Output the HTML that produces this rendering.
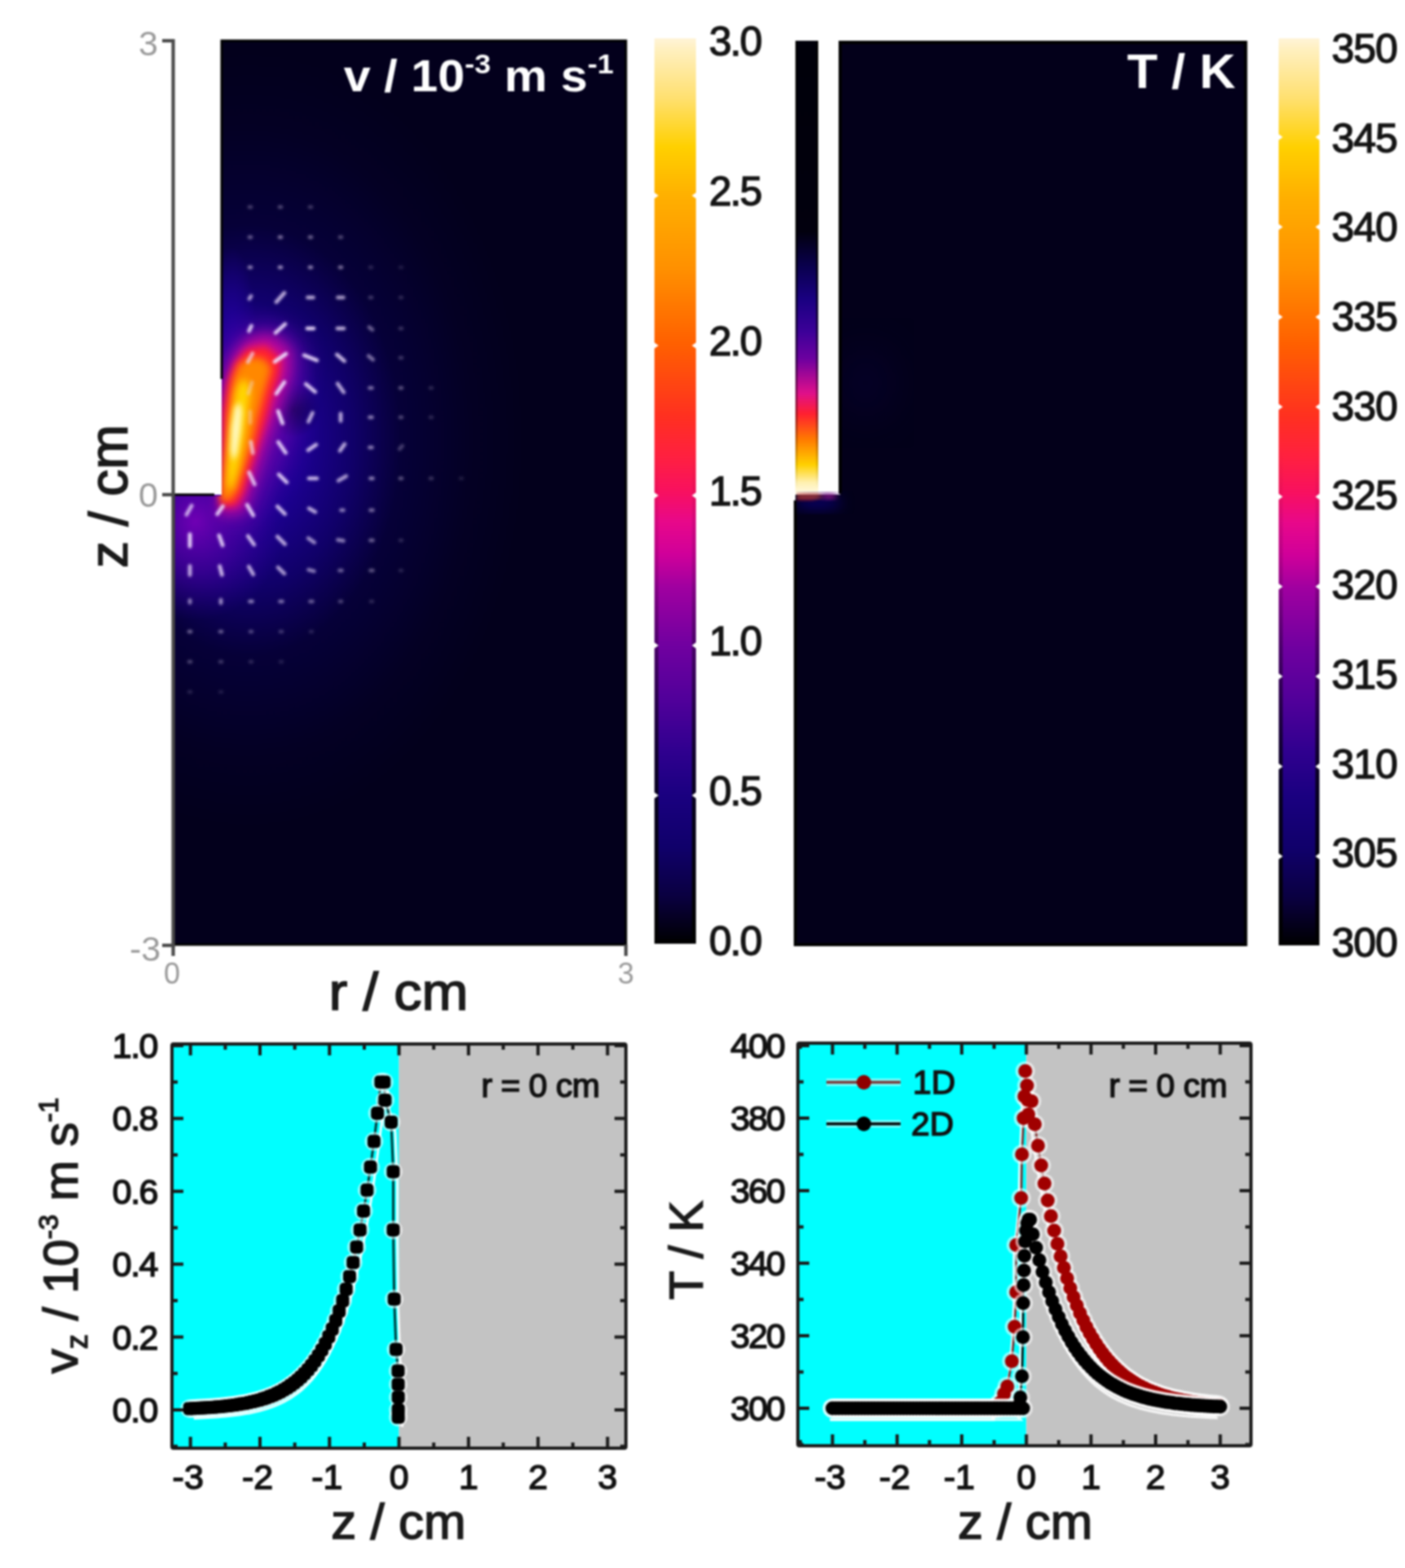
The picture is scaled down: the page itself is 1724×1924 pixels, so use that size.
<!DOCTYPE html><html><head><meta charset="utf-8"><style>html,body{margin:0;padding:0;background:#fff;}body{width:1724px;height:1924px;overflow:hidden}</style></head><body><svg width="1724" height="1924" viewBox="0 0 1724 1924" style="display:block">
<defs>
<linearGradient id="cbar" x1="0" y1="1" x2="0" y2="0"><stop offset="0.000" stop-color="#000000"/><stop offset="0.052" stop-color="#0a0040"/><stop offset="0.106" stop-color="#10006a"/><stop offset="0.164" stop-color="#1a0080"/><stop offset="0.214" stop-color="#30008f"/><stop offset="0.268" stop-color="#50009a"/><stop offset="0.329" stop-color="#7000a0"/><stop offset="0.394" stop-color="#a000a0"/><stop offset="0.430" stop-color="#d0009a"/><stop offset="0.466" stop-color="#e8088a"/><stop offset="0.499" stop-color="#f81060"/><stop offset="0.538" stop-color="#ff2040"/><stop offset="0.583" stop-color="#ff3020"/><stop offset="0.663" stop-color="#ff6000"/><stop offset="0.745" stop-color="#ff9000"/><stop offset="0.826" stop-color="#ffb000"/><stop offset="0.880" stop-color="#ffd000"/><stop offset="0.934" stop-color="#ffe070"/><stop offset="0.988" stop-color="#fff0c0"/><stop offset="1.000" stop-color="#fff4d8"/></linearGradient>
<linearGradient id="strip" x1="0" y1="0" x2="0" y2="1"><stop offset="0.000" stop-color="#00000a"/><stop offset="0.420" stop-color="#02000e"/><stop offset="0.500" stop-color="#0a0050"/><stop offset="0.570" stop-color="#1a0082"/><stop offset="0.640" stop-color="#3c0098"/><stop offset="0.700" stop-color="#6c00a0"/><stop offset="0.777" stop-color="#e0108a"/><stop offset="0.822" stop-color="#ff2030"/><stop offset="0.878" stop-color="#ff7a00"/><stop offset="0.934" stop-color="#ffd000"/><stop offset="0.973" stop-color="#fff0b0"/><stop offset="1.000" stop-color="#fffbe8"/></linearGradient>
<filter id="b0" x="-50%" y="-50%" width="200%" height="200%" color-interpolation-filters="sRGB"><feGaussianBlur stdDeviation="1.4"/></filter>
<filter id="b1" x="-50%" y="-50%" width="200%" height="200%" color-interpolation-filters="sRGB"><feGaussianBlur stdDeviation="3"/></filter>
<filter id="b2" x="-50%" y="-50%" width="200%" height="200%" color-interpolation-filters="sRGB"><feGaussianBlur stdDeviation="5"/></filter>
<filter id="b3" x="-50%" y="-50%" width="200%" height="200%" color-interpolation-filters="sRGB"><feGaussianBlur stdDeviation="8"/></filter>
<filter id="b4" x="-50%" y="-50%" width="200%" height="200%" color-interpolation-filters="sRGB"><feGaussianBlur stdDeviation="14"/></filter>
<filter id="b5" x="-50%" y="-50%" width="200%" height="200%" color-interpolation-filters="sRGB"><feGaussianBlur stdDeviation="25"/></filter>
<filter id="b6" x="-50%" y="-50%" width="200%" height="200%" color-interpolation-filters="sRGB"><feGaussianBlur stdDeviation="45"/></filter>
<filter id="b7" x="-50%" y="-50%" width="200%" height="200%" color-interpolation-filters="sRGB"><feGaussianBlur stdDeviation="70"/></filter>
<clipPath id="clipL"><path d="M272,50 H768 V1159 H213 V607 H272 Z"/></clipPath>
<clipPath id="clipW"><path d="M271,50 H768 V1159 H213 V608.5 H271 Z"/></clipPath>
<clipPath id="clipR"><path d="M1031,52 H1528.5 V1159 H976 V607 H1031 Z"/></clipPath>
<clipPath id="clipR2"><rect x="977" y="560" width="80" height="100"/></clipPath>
<clipPath id="clipP1"><rect x="211" y="1281" width="557" height="495"/></clipPath>
<clipPath id="clipP2"><rect x="979" y="1280" width="556" height="494"/></clipPath>
</defs>
<filter id="gblur" x="0" y="0" width="1" height="1" filterUnits="objectBoundingBox" color-interpolation-filters="sRGB"><feGaussianBlur stdDeviation="0.9"/></filter>
<g filter="url(#gblur)">
<rect width="1724" height="1924" fill="#ffffff"/>
<g clip-path="url(#clipL)">
<rect x="200" y="40" width="580" height="1130" fill="#03001a"/>
<defs><radialGradient id="gA" gradientUnits="userSpaceOnUse" cx="305" cy="540" r="400" gradientTransform="translate(305 540) scale(0.85 1.2) translate(-305 -540)"><stop offset="0" stop-color="#2600a8"/><stop offset="0.2" stop-color="#1c0090"/><stop offset="0.38" stop-color="#100068"/><stop offset="0.55" stop-color="#060038"/><stop offset="0.8" stop-color="#040024"/><stop offset="1" stop-color="#03001c"/></radialGradient><radialGradient id="gB" gradientUnits="userSpaceOnUse" cx="240" cy="640" r="110" gradientTransform="translate(240 640) scale(1 1.1) translate(-240 -640)"><stop offset="0" stop-color="#7000b4" stop-opacity="1"/><stop offset="0.5" stop-color="#5000aa" stop-opacity="0.6"/><stop offset="1" stop-color="#3000a0" stop-opacity="0"/></radialGradient><radialGradient id="gC" gradientUnits="userSpaceOnUse" cx="308" cy="505" r="85" gradientTransform="translate(308 505) scale(1.0 1.6) translate(-308 -505)"><stop offset="0" stop-color="#6a00ac" stop-opacity="1"/><stop offset="0.6" stop-color="#4a00a6" stop-opacity="0.55"/><stop offset="1" stop-color="#2a009c" stop-opacity="0"/></radialGradient><radialGradient id="gD" gradientUnits="userSpaceOnUse" cx="360" cy="503" r="34"><stop offset="0" stop-color="#080048" stop-opacity="0.9"/><stop offset="1" stop-color="#080048" stop-opacity="0"/></radialGradient><radialGradient id="gE" gradientUnits="userSpaceOnUse" cx="284" cy="420" r="45" gradientTransform="translate(284 420) scale(0.7 2.6) translate(-284 -420)"><stop offset="0" stop-color="#2400a2" stop-opacity="0.9"/><stop offset="1" stop-color="#2400a2" stop-opacity="0"/></radialGradient></defs>
<rect x="200" y="40" width="580" height="1130" fill="url(#gA)"/>
<rect x="200" y="40" width="580" height="1130" fill="url(#gE)"/>
<rect x="200" y="40" width="580" height="1130" fill="url(#gC)"/>
<rect x="200" y="40" width="580" height="1130" fill="url(#gB)"/>
<rect x="200" y="40" width="580" height="1130" fill="url(#gD)"/>
<g clip-path="url(#clipW)">
<g filter="url(#b4)"><path d="M272,470 L280,440 L295,415 L320,402 L350,405 L372,430 L368,470 L356,505 L346,540 L334,575 L322,610 L306,640 L270,640 Z" fill="#6a06aa" opacity="0.85"/></g>
<g filter="url(#b3)"><path d="M272,500 L276,465 L286,436 L304,416 L330,410 L356,428 L356,458 L346,488 L337,515 L326,545 L316,576 L307,604 L298,628 L270,632 Z" fill="#c0089a"/></g>
<g filter="url(#b2)"><path d="M273,505 L279,470 L288,446 L303,428 L326,424 L344,440 L343,458 L334,486 L327,513 L317,545 L307,576 L299,604 L290,620 L270,622 Z" fill="#ff2030"/></g>
<g filter="url(#b2)"><path d="M287,462 L294,446 L308,438 L324,440 L333,452 L324,482 L316,513 L309,545 L299,576 L291,602 L282,614 L271,614 L272,602 L275,576 L278,545 L280,513 L283,485 Z" fill="#ff8800"/></g>
<g filter="url(#b2)"><path d="M290,478 L296,466 L304,467 L307,482 L303,513 L298,545 L292,576 L285,598 L279,600 L279,576 L281,545 L284,513 Z" fill="#ffd800"/></g>
<g filter="url(#b1)"><path d="M288,500 L294,493 L297,505 L295,530 L291,556 L286,566 L283,552 L284,525 Z" fill="#fff8c0"/></g>
</g>
<g filter="url(#b0)">
<line x1="306.0" y1="254.0" x2="308.0" y2="254.0" stroke="#f0e0ff" stroke-width="4.6" stroke-linecap="round" opacity="0.29"/>
<line x1="343.0" y1="254.0" x2="345.0" y2="254.0" stroke="#f0e0ff" stroke-width="4.6" stroke-linecap="round" opacity="0.33"/>
<line x1="380.0" y1="254.0" x2="382.0" y2="254.0" stroke="#f0e0ff" stroke-width="4.6" stroke-linecap="round" opacity="0.26"/>
<line x1="306.0" y1="291.0" x2="308.0" y2="291.0" stroke="#f0e0ff" stroke-width="4.6" stroke-linecap="round" opacity="0.42"/>
<line x1="343.0" y1="291.0" x2="345.0" y2="291.0" stroke="#f0e0ff" stroke-width="4.6" stroke-linecap="round" opacity="0.52"/>
<line x1="380.0" y1="291.0" x2="382.0" y2="291.0" stroke="#f0e0ff" stroke-width="4.6" stroke-linecap="round" opacity="0.45"/>
<line x1="417.0" y1="291.0" x2="419.0" y2="291.0" stroke="#f0e0ff" stroke-width="4.6" stroke-linecap="round" opacity="0.33"/>
<line x1="306.0" y1="328.0" x2="308.0" y2="328.0" stroke="#f0e0ff" stroke-width="4.6" stroke-linecap="round" opacity="0.59"/>
<line x1="343.0" y1="328.0" x2="345.0" y2="328.0" stroke="#f0e0ff" stroke-width="4.6" stroke-linecap="round" opacity="0.65"/>
<line x1="380.0" y1="328.0" x2="382.0" y2="328.0" stroke="#f0e0ff" stroke-width="4.6" stroke-linecap="round" opacity="0.59"/>
<line x1="417.0" y1="328.0" x2="419.0" y2="328.0" stroke="#f0e0ff" stroke-width="4.6" stroke-linecap="round" opacity="0.52"/>
<line x1="454.0" y1="328.0" x2="456.0" y2="328.0" stroke="#f0e0ff" stroke-width="4.6" stroke-linecap="round" opacity="0.17"/>
<line x1="491.0" y1="328.0" x2="493.0" y2="328.0" stroke="#f0e0ff" stroke-width="4.6" stroke-linecap="round" opacity="0.13"/>
<line x1="306.0" y1="366.7" x2="308.0" y2="363.3" stroke="#f0e0ff" stroke-width="4.6" stroke-linecap="round" opacity="0.72"/>
<line x1="339.0" y1="370.6" x2="349.0" y2="359.4" stroke="#f0e0ff" stroke-width="4.6" stroke-linecap="round" opacity="0.78"/>
<line x1="377.5" y1="365.0" x2="384.5" y2="365.0" stroke="#f0e0ff" stroke-width="4.6" stroke-linecap="round" opacity="0.78"/>
<line x1="414.5" y1="365.0" x2="421.5" y2="365.0" stroke="#f0e0ff" stroke-width="4.6" stroke-linecap="round" opacity="0.72"/>
<line x1="454.0" y1="365.0" x2="456.0" y2="365.0" stroke="#f0e0ff" stroke-width="4.6" stroke-linecap="round" opacity="0.26"/>
<line x1="491.0" y1="365.0" x2="493.0" y2="365.0" stroke="#f0e0ff" stroke-width="4.6" stroke-linecap="round" opacity="0.18"/>
<line x1="305.5" y1="406.2" x2="308.5" y2="399.8" stroke="#f0e0ff" stroke-width="4.6" stroke-linecap="round" opacity="0.91"/>
<line x1="338.1" y1="408.4" x2="349.9" y2="397.6" stroke="#f0e0ff" stroke-width="4.6" stroke-linecap="round" opacity="0.94"/>
<line x1="377.0" y1="403.0" x2="385.0" y2="403.0" stroke="#f0e0ff" stroke-width="4.6" stroke-linecap="round" opacity="0.98"/>
<line x1="414.0" y1="403.0" x2="422.0" y2="403.0" stroke="#f0e0ff" stroke-width="4.6" stroke-linecap="round" opacity="0.81"/>
<line x1="453.1" y1="401.4" x2="456.9" y2="404.6" stroke="#f0e0ff" stroke-width="4.6" stroke-linecap="round" opacity="0.45"/>
<line x1="491.0" y1="403.0" x2="493.0" y2="403.0" stroke="#f0e0ff" stroke-width="4.6" stroke-linecap="round" opacity="0.23"/>
<line x1="304.2" y1="444.3" x2="309.8" y2="433.7" stroke="#f0e0ff" stroke-width="4.6" stroke-linecap="round" opacity="0.72"/>
<line x1="337.0" y1="443.9" x2="351.0" y2="434.1" stroke="#f0e0ff" stroke-width="4.6" stroke-linecap="round" opacity="1.00"/>
<line x1="373.1" y1="435.8" x2="388.9" y2="442.2" stroke="#f0e0ff" stroke-width="4.6" stroke-linecap="round" opacity="0.94"/>
<line x1="413.4" y1="435.1" x2="422.6" y2="442.9" stroke="#f0e0ff" stroke-width="4.6" stroke-linecap="round" opacity="0.85"/>
<line x1="452.3" y1="436.8" x2="457.7" y2="441.2" stroke="#f0e0ff" stroke-width="4.6" stroke-linecap="round" opacity="0.52"/>
<line x1="491.0" y1="439.0" x2="493.0" y2="439.0" stroke="#f0e0ff" stroke-width="4.6" stroke-linecap="round" opacity="0.26"/>
<line x1="304.8" y1="482.7" x2="309.2" y2="469.3" stroke="#f0e0ff" stroke-width="4.6" stroke-linecap="round" opacity="0.39"/>
<line x1="339.1" y1="483.0" x2="348.9" y2="469.0" stroke="#f0e0ff" stroke-width="4.6" stroke-linecap="round" opacity="0.98"/>
<line x1="375.3" y1="471.2" x2="386.7" y2="480.8" stroke="#f0e0ff" stroke-width="4.6" stroke-linecap="round" opacity="0.91"/>
<line x1="414.3" y1="470.7" x2="421.7" y2="481.3" stroke="#f0e0ff" stroke-width="4.6" stroke-linecap="round" opacity="0.78"/>
<line x1="453.5" y1="476.0" x2="456.5" y2="476.0" stroke="#f0e0ff" stroke-width="4.6" stroke-linecap="round" opacity="0.52"/>
<line x1="491.0" y1="476.0" x2="493.0" y2="476.0" stroke="#f0e0ff" stroke-width="4.6" stroke-linecap="round" opacity="0.39"/>
<line x1="528.0" y1="476.0" x2="530.0" y2="476.0" stroke="#f0e0ff" stroke-width="4.6" stroke-linecap="round" opacity="0.18"/>
<line x1="307.0" y1="505.0" x2="307.0" y2="519.0" stroke="#f0e0ff" stroke-width="4.6" stroke-linecap="round" opacity="0.36"/>
<line x1="341.3" y1="504.5" x2="346.7" y2="519.5" stroke="#f0e0ff" stroke-width="4.6" stroke-linecap="round" opacity="0.98"/>
<line x1="378.5" y1="517.4" x2="383.5" y2="506.6" stroke="#f0e0ff" stroke-width="4.6" stroke-linecap="round" opacity="0.78"/>
<line x1="418.0" y1="507.5" x2="418.0" y2="516.5" stroke="#f0e0ff" stroke-width="4.6" stroke-linecap="round" opacity="0.78"/>
<line x1="453.5" y1="512.0" x2="456.5" y2="512.0" stroke="#f0e0ff" stroke-width="4.6" stroke-linecap="round" opacity="0.59"/>
<line x1="491.0" y1="512.0" x2="493.0" y2="512.0" stroke="#f0e0ff" stroke-width="4.6" stroke-linecap="round" opacity="0.33"/>
<line x1="528.0" y1="512.0" x2="530.0" y2="512.0" stroke="#f0e0ff" stroke-width="4.6" stroke-linecap="round" opacity="0.18"/>
<line x1="307.8" y1="542.1" x2="310.2" y2="555.9" stroke="#f0e0ff" stroke-width="4.6" stroke-linecap="round" opacity="0.72"/>
<line x1="341.4" y1="542.4" x2="350.6" y2="555.6" stroke="#f0e0ff" stroke-width="4.6" stroke-linecap="round" opacity="0.91"/>
<line x1="378.1" y1="552.4" x2="387.9" y2="545.6" stroke="#f0e0ff" stroke-width="4.6" stroke-linecap="round" opacity="0.85"/>
<line x1="417.1" y1="553.1" x2="422.9" y2="544.9" stroke="#f0e0ff" stroke-width="4.6" stroke-linecap="round" opacity="0.78"/>
<line x1="453.5" y1="549.0" x2="456.5" y2="549.0" stroke="#f0e0ff" stroke-width="4.6" stroke-linecap="round" opacity="0.59"/>
<line x1="490.4" y1="550.9" x2="493.6" y2="547.1" stroke="#f0e0ff" stroke-width="4.6" stroke-linecap="round" opacity="0.29"/>
<line x1="305.6" y1="579.7" x2="312.4" y2="594.3" stroke="#f0e0ff" stroke-width="4.6" stroke-linecap="round" opacity="0.85"/>
<line x1="342.1" y1="582.1" x2="351.9" y2="591.9" stroke="#f0e0ff" stroke-width="4.6" stroke-linecap="round" opacity="0.91"/>
<line x1="379.0" y1="587.0" x2="389.0" y2="587.0" stroke="#f0e0ff" stroke-width="4.6" stroke-linecap="round" opacity="0.85"/>
<line x1="415.2" y1="589.8" x2="424.8" y2="584.2" stroke="#f0e0ff" stroke-width="4.6" stroke-linecap="round" opacity="0.72"/>
<line x1="454.5" y1="587.0" x2="457.5" y2="587.0" stroke="#f0e0ff" stroke-width="4.6" stroke-linecap="round" opacity="0.59"/>
<line x1="491.0" y1="587.0" x2="493.0" y2="587.0" stroke="#f0e0ff" stroke-width="4.6" stroke-linecap="round" opacity="0.39"/>
<line x1="528.0" y1="587.0" x2="530.0" y2="587.0" stroke="#f0e0ff" stroke-width="4.6" stroke-linecap="round" opacity="0.23"/>
<line x1="565.0" y1="587.0" x2="567.0" y2="587.0" stroke="#f0e0ff" stroke-width="4.6" stroke-linecap="round" opacity="0.13"/>
<line x1="228.8" y1="631.6" x2="235.2" y2="620.4" stroke="#f0e0ff" stroke-width="4.6" stroke-linecap="round" opacity="0.78"/>
<line x1="266.6" y1="630.9" x2="273.4" y2="621.1" stroke="#f0e0ff" stroke-width="4.6" stroke-linecap="round" opacity="0.91"/>
<line x1="303.2" y1="619.5" x2="310.8" y2="632.5" stroke="#f0e0ff" stroke-width="4.6" stroke-linecap="round" opacity="0.91"/>
<line x1="340.4" y1="621.4" x2="349.6" y2="630.6" stroke="#f0e0ff" stroke-width="4.6" stroke-linecap="round" opacity="0.85"/>
<line x1="379.1" y1="623.8" x2="386.9" y2="628.2" stroke="#f0e0ff" stroke-width="4.6" stroke-linecap="round" opacity="0.78"/>
<line x1="418.5" y1="626.0" x2="421.5" y2="626.0" stroke="#f0e0ff" stroke-width="4.6" stroke-linecap="round" opacity="0.59"/>
<line x1="454.5" y1="626.0" x2="457.5" y2="626.0" stroke="#f0e0ff" stroke-width="4.6" stroke-linecap="round" opacity="0.49"/>
<line x1="233.0" y1="655.5" x2="233.0" y2="670.5" stroke="#f0e0ff" stroke-width="4.6" stroke-linecap="round" opacity="0.98"/>
<line x1="268.8" y1="656.9" x2="273.2" y2="669.1" stroke="#f0e0ff" stroke-width="4.6" stroke-linecap="round" opacity="0.91"/>
<line x1="304.3" y1="657.7" x2="311.7" y2="668.3" stroke="#f0e0ff" stroke-width="4.6" stroke-linecap="round" opacity="0.85"/>
<line x1="340.4" y1="658.4" x2="349.6" y2="667.6" stroke="#f0e0ff" stroke-width="4.6" stroke-linecap="round" opacity="0.78"/>
<line x1="378.3" y1="660.4" x2="385.7" y2="665.6" stroke="#f0e0ff" stroke-width="4.6" stroke-linecap="round" opacity="0.65"/>
<line x1="414.6" y1="662.4" x2="421.4" y2="663.6" stroke="#f0e0ff" stroke-width="4.6" stroke-linecap="round" opacity="0.59"/>
<line x1="454.5" y1="663.0" x2="457.5" y2="663.0" stroke="#f0e0ff" stroke-width="4.6" stroke-linecap="round" opacity="0.45"/>
<line x1="491.0" y1="663.0" x2="493.0" y2="663.0" stroke="#f0e0ff" stroke-width="4.6" stroke-linecap="round" opacity="0.18"/>
<line x1="233.0" y1="694.5" x2="233.0" y2="705.5" stroke="#f0e0ff" stroke-width="4.6" stroke-linecap="round" opacity="0.78"/>
<line x1="269.6" y1="694.7" x2="272.4" y2="705.3" stroke="#f0e0ff" stroke-width="4.6" stroke-linecap="round" opacity="0.85"/>
<line x1="305.2" y1="695.2" x2="310.8" y2="704.8" stroke="#f0e0ff" stroke-width="4.6" stroke-linecap="round" opacity="0.78"/>
<line x1="341.1" y1="696.1" x2="348.9" y2="703.9" stroke="#f0e0ff" stroke-width="4.6" stroke-linecap="round" opacity="0.72"/>
<line x1="378.6" y1="699.1" x2="385.4" y2="700.9" stroke="#f0e0ff" stroke-width="4.6" stroke-linecap="round" opacity="0.59"/>
<line x1="416.5" y1="700.0" x2="419.5" y2="700.0" stroke="#f0e0ff" stroke-width="4.6" stroke-linecap="round" opacity="0.45"/>
<line x1="454.5" y1="700.0" x2="457.5" y2="700.0" stroke="#f0e0ff" stroke-width="4.6" stroke-linecap="round" opacity="0.39"/>
<line x1="491.0" y1="700.0" x2="493.0" y2="700.0" stroke="#f0e0ff" stroke-width="4.6" stroke-linecap="round" opacity="0.16"/>
<line x1="233.0" y1="736.5" x2="233.0" y2="739.5" stroke="#f0e0ff" stroke-width="4.6" stroke-linecap="round" opacity="0.59"/>
<line x1="271.0" y1="736.0" x2="271.0" y2="740.0" stroke="#f0e0ff" stroke-width="4.6" stroke-linecap="round" opacity="0.65"/>
<line x1="306.5" y1="738.0" x2="309.5" y2="738.0" stroke="#f0e0ff" stroke-width="4.6" stroke-linecap="round" opacity="0.59"/>
<line x1="343.5" y1="738.0" x2="346.5" y2="738.0" stroke="#f0e0ff" stroke-width="4.6" stroke-linecap="round" opacity="0.52"/>
<line x1="380.5" y1="738.0" x2="383.5" y2="738.0" stroke="#f0e0ff" stroke-width="4.6" stroke-linecap="round" opacity="0.43"/>
<line x1="417.0" y1="738.0" x2="419.0" y2="738.0" stroke="#f0e0ff" stroke-width="4.6" stroke-linecap="round" opacity="0.31"/>
<line x1="455.0" y1="738.0" x2="457.0" y2="738.0" stroke="#f0e0ff" stroke-width="4.6" stroke-linecap="round" opacity="0.18"/>
<line x1="232.0" y1="775.0" x2="234.0" y2="775.0" stroke="#f0e0ff" stroke-width="4.6" stroke-linecap="round" opacity="0.45"/>
<line x1="270.0" y1="775.0" x2="272.0" y2="775.0" stroke="#f0e0ff" stroke-width="4.6" stroke-linecap="round" opacity="0.43"/>
<line x1="307.0" y1="775.0" x2="309.0" y2="775.0" stroke="#f0e0ff" stroke-width="4.6" stroke-linecap="round" opacity="0.33"/>
<line x1="344.0" y1="775.0" x2="346.0" y2="775.0" stroke="#f0e0ff" stroke-width="4.6" stroke-linecap="round" opacity="0.26"/>
<line x1="381.0" y1="775.0" x2="383.0" y2="775.0" stroke="#f0e0ff" stroke-width="4.6" stroke-linecap="round" opacity="0.16"/>
<line x1="232.0" y1="812.0" x2="234.0" y2="812.0" stroke="#f0e0ff" stroke-width="4.6" stroke-linecap="round" opacity="0.31"/>
<line x1="270.0" y1="812.0" x2="272.0" y2="812.0" stroke="#f0e0ff" stroke-width="4.6" stroke-linecap="round" opacity="0.26"/>
<line x1="307.0" y1="812.0" x2="309.0" y2="812.0" stroke="#f0e0ff" stroke-width="4.6" stroke-linecap="round" opacity="0.18"/>
<line x1="344.0" y1="812.0" x2="346.0" y2="812.0" stroke="#f0e0ff" stroke-width="4.6" stroke-linecap="round" opacity="0.14"/>
<line x1="232.0" y1="849.0" x2="234.0" y2="849.0" stroke="#f0e0ff" stroke-width="4.6" stroke-linecap="round" opacity="0.16"/>
<line x1="270.0" y1="849.0" x2="272.0" y2="849.0" stroke="#f0e0ff" stroke-width="4.6" stroke-linecap="round" opacity="0.13"/>
</g>
</g>
<path d="M272,465 V50 H768 V1159 H213 V607 H263" fill="none" stroke="#000" stroke-width="3" stroke-linejoin="miter"/>
<g stroke="#4a4a4a" stroke-width="4.2" fill="none">
<line x1="212.5" y1="48" x2="212.5" y2="1162"/>
<line x1="199" y1="50" x2="213" y2="50"/>
<line x1="199" y1="607" x2="213" y2="607"/>
<line x1="199" y1="1160" x2="213" y2="1160"/>
<line x1="212.5" y1="1159" x2="212.5" y2="1173"/>
<line x1="768" y1="1159" x2="768" y2="1173"/>
</g>
<g font-family='"Liberation Sans", Arial, sans-serif' font-size="36" fill="#9a9a9a" text-anchor="middle">
<text x="182" y="68" font-size="43">3</text>
<text x="182" y="621.5" font-size="43">0</text>
<text x="178" y="1179" font-size="43">-3</text>
<text x="211" y="1207">0</text>
<text x="768" y="1207">3</text>
</g>
<text transform="translate(489,1239) scale(1.07,1)" font-family='"Liberation Sans", Arial, sans-serif' font-size="64" fill="#1a1a1a" stroke="#1a1a1a" stroke-width="1.6" text-anchor="middle">r / cm</text>
<text transform="translate(156,609) rotate(-90)" font-family='"Liberation Sans", Arial, sans-serif' font-size="66" fill="#1a1a1a" stroke="#1a1a1a" stroke-width="1.6" text-anchor="middle">z / cm</text>
<text transform="translate(753,112) scale(1.06,1)" font-family='"Liberation Sans", Arial, sans-serif' font-size="56" font-weight="bold" fill="#fff" text-anchor="end">v / 10<tspan dy="-22" font-size="34">-3</tspan><tspan dy="22"> m s</tspan><tspan dy="-22" font-size="34">-1</tspan></text>
<g clip-path="url(#clipR)">
<rect x="960" y="40" width="580" height="1130" fill="#03001a"/>
<g filter="url(#b5)"><ellipse cx="1062" cy="470" rx="30" ry="40" fill="#06002e" opacity="0.8"/></g>
</g>
<rect x="976" y="50" width="28" height="557" fill="url(#strip)"/>
<path d="M1031,606 V52 H1528.5 V1159 H976 V614" fill="none" stroke="#000" stroke-width="4"/>
<defs><linearGradient id="sedge" gradientUnits="userSpaceOnUse" x1="0" y1="50" x2="0" y2="600"><stop offset="0" stop-color="#000" stop-opacity="1"/><stop offset="0.45" stop-color="#000" stop-opacity="0.9"/><stop offset="0.85" stop-color="#000" stop-opacity="0.35"/><stop offset="1" stop-color="#000" stop-opacity="0"/></linearGradient></defs>
<rect x="976" y="50" width="2.5" height="555" fill="url(#sedge)"/>
<rect x="1001.5" y="50" width="2.5" height="555" fill="url(#sedge)"/>
<g clip-path="url(#clipR2)">
<g filter="url(#b3)"><ellipse cx="1003" cy="617" rx="30" ry="7" fill="#0a0070"/></g>
<g filter="url(#b1)"><ellipse cx="1017" cy="609" rx="10" ry="3" fill="#a01890"/></g>
<g filter="url(#b1)"><rect x="978" y="611.5" width="22" height="3" fill="#a01020" opacity="0.8"/></g>
<g filter="url(#b1)"><rect x="977" y="606.5" width="30" height="4.5" fill="#ff5a38"/></g>
</g>
<text transform="translate(1516,107.5) scale(1.04,1)" font-family='"Liberation Sans", Arial, sans-serif' font-size="59" font-weight="bold" fill="#fff" text-anchor="end">T / K</text>
<rect x="803" y="47" width="51" height="1111" fill="url(#cbar)"/>
<defs><linearGradient id="cbe803" gradientUnits="userSpaceOnUse" x1="0" y1="1158" x2="0" y2="47"><stop offset="0" stop-color="#000" stop-opacity="0.95"/><stop offset="0.2" stop-color="#000" stop-opacity="0.7"/><stop offset="0.4" stop-color="#000" stop-opacity="0.15"/><stop offset="0.55" stop-color="#000" stop-opacity="0"/></linearGradient></defs>
<rect x="803" y="47" width="5" height="1111" fill="url(#cbe803)"/>
<rect x="849" y="47" width="5" height="1111" fill="url(#cbe803)"/>
<rect x="803" y="1153" width="51" height="5" fill="#000" opacity="0.9"/>
<path d="M802.5,972 L808,976 L802.5,980 Z" fill="#fff"/>
<path d="M854.5,972 L849,976 L854.5,980 Z" fill="#fff"/>
<path d="M802.5,788 L808,792 L802.5,796 Z" fill="#fff"/>
<path d="M854.5,788 L849,792 L854.5,796 Z" fill="#fff"/>
<path d="M802.5,604 L808,608 L802.5,612 Z" fill="#fff"/>
<path d="M854.5,604 L849,608 L854.5,612 Z" fill="#fff"/>
<path d="M802.5,420 L808,424 L802.5,428 Z" fill="#fff"/>
<path d="M854.5,420 L849,424 L854.5,428 Z" fill="#fff"/>
<path d="M802.5,236 L808,240 L802.5,244 Z" fill="#fff"/>
<path d="M854.5,236 L849,240 L854.5,244 Z" fill="#fff"/>
<text x="870" y="1172" font-family='"Liberation Sans", Arial, sans-serif' font-size="50" fill="#141414" stroke="#141414" stroke-width="1.4" style="letter-spacing:-2px">0.0</text>
<text x="870" y="988" font-family='"Liberation Sans", Arial, sans-serif' font-size="50" fill="#141414" stroke="#141414" stroke-width="1.4" style="letter-spacing:-2px">0.5</text>
<text x="870" y="804" font-family='"Liberation Sans", Arial, sans-serif' font-size="50" fill="#141414" stroke="#141414" stroke-width="1.4" style="letter-spacing:-2px">1.0</text>
<text x="870" y="620" font-family='"Liberation Sans", Arial, sans-serif' font-size="50" fill="#141414" stroke="#141414" stroke-width="1.4" style="letter-spacing:-2px">1.5</text>
<text x="870" y="436" font-family='"Liberation Sans", Arial, sans-serif' font-size="50" fill="#141414" stroke="#141414" stroke-width="1.4" style="letter-spacing:-2px">2.0</text>
<text x="870" y="252" font-family='"Liberation Sans", Arial, sans-serif' font-size="50" fill="#141414" stroke="#141414" stroke-width="1.4" style="letter-spacing:-2px">2.5</text>
<text x="870" y="68" font-family='"Liberation Sans", Arial, sans-serif' font-size="50" fill="#141414" stroke="#141414" stroke-width="1.4" style="letter-spacing:-2px">3.0</text>
<rect x="1569" y="47" width="50" height="1113" fill="url(#cbar)"/>
<defs><linearGradient id="cbe1569" gradientUnits="userSpaceOnUse" x1="0" y1="1160" x2="0" y2="47"><stop offset="0" stop-color="#000" stop-opacity="0.95"/><stop offset="0.2" stop-color="#000" stop-opacity="0.7"/><stop offset="0.4" stop-color="#000" stop-opacity="0.15"/><stop offset="0.55" stop-color="#000" stop-opacity="0"/></linearGradient></defs>
<rect x="1569" y="47" width="5" height="1113" fill="url(#cbe1569)"/>
<rect x="1614" y="47" width="5" height="1113" fill="url(#cbe1569)"/>
<rect x="1569" y="1155" width="50" height="5" fill="#000" opacity="0.9"/>
<path d="M1568.5,1046.7 L1574,1050.7 L1568.5,1054.7 Z" fill="#fff"/>
<path d="M1619.5,1046.7 L1614,1050.7 L1619.5,1054.7 Z" fill="#fff"/>
<path d="M1568.5,936.4 L1574,940.4 L1568.5,944.4 Z" fill="#fff"/>
<path d="M1619.5,936.4 L1614,940.4 L1619.5,944.4 Z" fill="#fff"/>
<path d="M1568.5,826.1 L1574,830.1 L1568.5,834.1 Z" fill="#fff"/>
<path d="M1619.5,826.1 L1614,830.1 L1619.5,834.1 Z" fill="#fff"/>
<path d="M1568.5,715.8 L1574,719.8 L1568.5,723.8 Z" fill="#fff"/>
<path d="M1619.5,715.8 L1614,719.8 L1619.5,723.8 Z" fill="#fff"/>
<path d="M1568.5,605.5 L1574,609.5 L1568.5,613.5 Z" fill="#fff"/>
<path d="M1619.5,605.5 L1614,609.5 L1619.5,613.5 Z" fill="#fff"/>
<path d="M1568.5,495.20000000000005 L1574,499.20000000000005 L1568.5,503.20000000000005 Z" fill="#fff"/>
<path d="M1619.5,495.20000000000005 L1614,499.20000000000005 L1619.5,503.20000000000005 Z" fill="#fff"/>
<path d="M1568.5,384.9 L1574,388.9 L1568.5,392.9 Z" fill="#fff"/>
<path d="M1619.5,384.9 L1614,388.9 L1619.5,392.9 Z" fill="#fff"/>
<path d="M1568.5,274.6 L1574,278.6 L1568.5,282.6 Z" fill="#fff"/>
<path d="M1619.5,274.6 L1614,278.6 L1619.5,282.6 Z" fill="#fff"/>
<path d="M1568.5,164.30000000000007 L1574,168.30000000000007 L1568.5,172.30000000000007 Z" fill="#fff"/>
<path d="M1619.5,164.30000000000007 L1614,168.30000000000007 L1619.5,172.30000000000007 Z" fill="#fff"/>
<text x="1634" y="1173.9" font-family='"Liberation Sans", Arial, sans-serif' font-size="50" fill="#141414" stroke="#141414" stroke-width="1.4" style="letter-spacing:-1px">300</text>
<text x="1634" y="1064.2" font-family='"Liberation Sans", Arial, sans-serif' font-size="50" fill="#141414" stroke="#141414" stroke-width="1.4" style="letter-spacing:-1px">305</text>
<text x="1634" y="954.5" font-family='"Liberation Sans", Arial, sans-serif' font-size="50" fill="#141414" stroke="#141414" stroke-width="1.4" style="letter-spacing:-1px">310</text>
<text x="1634" y="844.8" font-family='"Liberation Sans", Arial, sans-serif' font-size="50" fill="#141414" stroke="#141414" stroke-width="1.4" style="letter-spacing:-1px">315</text>
<text x="1634" y="735.1" font-family='"Liberation Sans", Arial, sans-serif' font-size="50" fill="#141414" stroke="#141414" stroke-width="1.4" style="letter-spacing:-1px">320</text>
<text x="1634" y="625.4" font-family='"Liberation Sans", Arial, sans-serif' font-size="50" fill="#141414" stroke="#141414" stroke-width="1.4" style="letter-spacing:-1px">325</text>
<text x="1634" y="515.6999999999999" font-family='"Liberation Sans", Arial, sans-serif' font-size="50" fill="#141414" stroke="#141414" stroke-width="1.4" style="letter-spacing:-1px">330</text>
<text x="1634" y="406.0" font-family='"Liberation Sans", Arial, sans-serif' font-size="50" fill="#141414" stroke="#141414" stroke-width="1.4" style="letter-spacing:-1px">335</text>
<text x="1634" y="296.29999999999995" font-family='"Liberation Sans", Arial, sans-serif' font-size="50" fill="#141414" stroke="#141414" stroke-width="1.4" style="letter-spacing:-1px">340</text>
<text x="1634" y="186.59999999999994" font-family='"Liberation Sans", Arial, sans-serif' font-size="50" fill="#141414" stroke="#141414" stroke-width="1.4" style="letter-spacing:-1px">345</text>
<text x="1634" y="76.9" font-family='"Liberation Sans", Arial, sans-serif' font-size="50" fill="#141414" stroke="#141414" stroke-width="1.4" style="letter-spacing:-1px">350</text>
<rect x="211" y="1281" width="278.6" height="496" fill="#00ffff"/>
<rect x="489.6" y="1281" width="278.4" height="496" fill="#c3c3c3"/>
<g clip-path="url(#clipP1)">
<path d="M232.8,1728.4 L237.1,1728.2 L241.4,1728.0 L245.6,1727.8 L249.9,1727.5 L254.2,1727.3 L258.4,1727.0 L262.7,1726.7 L267.0,1726.3 L271.2,1726.0 L275.5,1725.5 L279.8,1725.1 L284.0,1724.5 L288.3,1724.0 L292.6,1723.3 L296.8,1722.6 L301.1,1721.9 L305.4,1721.0 L309.6,1720.1 L313.9,1719.0 L318.1,1717.9 L322.4,1716.6 L326.7,1715.2 L330.9,1713.6 L335.2,1711.9 L339.5,1710.0 L343.7,1707.9 L348.0,1705.5 L352.3,1703.0 L356.5,1700.1 L360.8,1697.0 L365.1,1693.5 L369.3,1689.7 L373.6,1685.4 L377.9,1680.7 L382.1,1675.6 L386.4,1669.8 L390.7,1663.5 L394.9,1656.5 L399.2,1648.8 L403.4,1640.2 L407.7,1630.8 L412.0,1620.4 L416.2,1608.8 L420.5,1596.1 L424.8,1582.0 L429.0,1566.4 L433.3,1549.2 L437.6,1530.2 L441.8,1509.2 L446.1,1486.0 L450.4,1460.3 L454.6,1432.0 L458.9,1400.6 L463.2,1366.0 L467.4,1327.7 L471.3,1327.7 L472.5,1350.0 L480.0,1376.9 L482.5,1437.7 L482.5,1509.2 L483.7,1594.1 L486.0,1655.8 L488.5,1682.2 L488.6,1698.7 L488.7,1714.4 L488.7,1730.0 L488.7,1738.9" transform="translate(5,12)" fill="none" stroke="#fff" stroke-width="3" opacity="0.9"/>
<path d="M232.8,1728.4 L237.1,1728.2 L241.4,1728.0 L245.6,1727.8 L249.9,1727.5 L254.2,1727.3 L258.4,1727.0 L262.7,1726.7 L267.0,1726.3 L271.2,1726.0 L275.5,1725.5 L279.8,1725.1 L284.0,1724.5 L288.3,1724.0 L292.6,1723.3 L296.8,1722.6 L301.1,1721.9 L305.4,1721.0 L309.6,1720.1 L313.9,1719.0 L318.1,1717.9 L322.4,1716.6 L326.7,1715.2 L330.9,1713.6 L335.2,1711.9 L339.5,1710.0 L343.7,1707.9 L348.0,1705.5 L352.3,1703.0 L356.5,1700.1 L360.8,1697.0 L365.1,1693.5 L369.3,1689.7 L373.6,1685.4 L377.9,1680.7 L382.1,1675.6 L386.4,1669.8 L390.7,1663.5 L394.9,1656.5 L399.2,1648.8 L403.4,1640.2 L407.7,1630.8 L412.0,1620.4 L416.2,1608.8 L420.5,1596.1 L424.8,1582.0 L429.0,1566.4 L433.3,1549.2 L437.6,1530.2 L441.8,1509.2 L446.1,1486.0 L450.4,1460.3 L454.6,1432.0 L458.9,1400.6 L463.2,1366.0 L467.4,1327.7 L471.3,1327.7 L472.5,1350.0 L480.0,1376.9 L482.5,1437.7 L482.5,1509.2 L483.7,1594.1 L486.0,1655.8 L488.5,1682.2 L488.6,1698.7 L488.7,1714.4 L488.7,1730.0 L488.7,1738.9" fill="none" stroke="#003c3c" stroke-width="3"/>
<circle cx="232.8" cy="1728.4" r="11.5" fill="#fff" opacity="0.55"/>
<circle cx="237.1" cy="1728.2" r="11.5" fill="#fff" opacity="0.55"/>
<circle cx="241.4" cy="1728.0" r="11.5" fill="#fff" opacity="0.55"/>
<circle cx="245.6" cy="1727.8" r="11.5" fill="#fff" opacity="0.55"/>
<circle cx="249.9" cy="1727.5" r="11.5" fill="#fff" opacity="0.55"/>
<circle cx="254.2" cy="1727.3" r="11.5" fill="#fff" opacity="0.55"/>
<circle cx="258.4" cy="1727.0" r="11.5" fill="#fff" opacity="0.55"/>
<circle cx="262.7" cy="1726.7" r="11.5" fill="#fff" opacity="0.55"/>
<circle cx="267.0" cy="1726.3" r="11.5" fill="#fff" opacity="0.55"/>
<circle cx="271.2" cy="1726.0" r="11.5" fill="#fff" opacity="0.55"/>
<circle cx="275.5" cy="1725.5" r="11.5" fill="#fff" opacity="0.55"/>
<circle cx="279.8" cy="1725.1" r="11.5" fill="#fff" opacity="0.55"/>
<circle cx="284.0" cy="1724.5" r="11.5" fill="#fff" opacity="0.55"/>
<circle cx="288.3" cy="1724.0" r="11.5" fill="#fff" opacity="0.55"/>
<circle cx="292.6" cy="1723.3" r="11.5" fill="#fff" opacity="0.55"/>
<circle cx="296.8" cy="1722.6" r="11.5" fill="#fff" opacity="0.55"/>
<circle cx="301.1" cy="1721.9" r="11.5" fill="#fff" opacity="0.55"/>
<circle cx="305.4" cy="1721.0" r="11.5" fill="#fff" opacity="0.55"/>
<circle cx="309.6" cy="1720.1" r="11.5" fill="#fff" opacity="0.55"/>
<circle cx="313.9" cy="1719.0" r="11.5" fill="#fff" opacity="0.55"/>
<circle cx="318.1" cy="1717.9" r="11.5" fill="#fff" opacity="0.55"/>
<circle cx="322.4" cy="1716.6" r="11.5" fill="#fff" opacity="0.55"/>
<circle cx="326.7" cy="1715.2" r="11.5" fill="#fff" opacity="0.55"/>
<circle cx="330.9" cy="1713.6" r="11.5" fill="#fff" opacity="0.55"/>
<circle cx="335.2" cy="1711.9" r="11.5" fill="#fff" opacity="0.55"/>
<circle cx="339.5" cy="1710.0" r="11.5" fill="#fff" opacity="0.55"/>
<circle cx="343.7" cy="1707.9" r="11.5" fill="#fff" opacity="0.55"/>
<circle cx="348.0" cy="1705.5" r="11.5" fill="#fff" opacity="0.55"/>
<circle cx="352.3" cy="1703.0" r="11.5" fill="#fff" opacity="0.55"/>
<circle cx="356.5" cy="1700.1" r="11.5" fill="#fff" opacity="0.55"/>
<circle cx="360.8" cy="1697.0" r="11.5" fill="#fff" opacity="0.55"/>
<circle cx="365.1" cy="1693.5" r="11.5" fill="#fff" opacity="0.55"/>
<circle cx="369.3" cy="1689.7" r="11.5" fill="#fff" opacity="0.55"/>
<circle cx="373.6" cy="1685.4" r="11.5" fill="#fff" opacity="0.55"/>
<circle cx="377.9" cy="1680.7" r="11.5" fill="#fff" opacity="0.55"/>
<circle cx="382.1" cy="1675.6" r="11.5" fill="#fff" opacity="0.55"/>
<circle cx="386.4" cy="1669.8" r="11.5" fill="#fff" opacity="0.55"/>
<circle cx="390.7" cy="1663.5" r="11.5" fill="#fff" opacity="0.55"/>
<circle cx="394.9" cy="1656.5" r="11.5" fill="#fff" opacity="0.55"/>
<circle cx="399.2" cy="1648.8" r="11.5" fill="#fff" opacity="0.55"/>
<circle cx="403.4" cy="1640.2" r="11.5" fill="#fff" opacity="0.55"/>
<circle cx="407.7" cy="1630.8" r="11.5" fill="#fff" opacity="0.55"/>
<circle cx="412.0" cy="1620.4" r="11.5" fill="#fff" opacity="0.55"/>
<circle cx="416.2" cy="1608.8" r="11.5" fill="#fff" opacity="0.55"/>
<circle cx="420.5" cy="1596.1" r="11.5" fill="#fff" opacity="0.55"/>
<circle cx="424.8" cy="1582.0" r="11.5" fill="#fff" opacity="0.55"/>
<circle cx="429.0" cy="1566.4" r="11.5" fill="#fff" opacity="0.55"/>
<circle cx="433.3" cy="1549.2" r="11.5" fill="#fff" opacity="0.55"/>
<circle cx="437.6" cy="1530.2" r="11.5" fill="#fff" opacity="0.55"/>
<circle cx="441.8" cy="1509.2" r="11.5" fill="#fff" opacity="0.55"/>
<circle cx="446.1" cy="1486.0" r="11.5" fill="#fff" opacity="0.55"/>
<circle cx="450.4" cy="1460.3" r="11.5" fill="#fff" opacity="0.55"/>
<circle cx="454.6" cy="1432.0" r="11.5" fill="#fff" opacity="0.55"/>
<circle cx="458.9" cy="1400.6" r="11.5" fill="#fff" opacity="0.55"/>
<circle cx="463.2" cy="1366.0" r="11.5" fill="#fff" opacity="0.55"/>
<circle cx="467.4" cy="1327.7" r="11.5" fill="#fff" opacity="0.55"/>
<circle cx="471.3" cy="1327.7" r="11.5" fill="#fff" opacity="0.55"/>
<circle cx="472.5" cy="1350.0" r="11.5" fill="#fff" opacity="0.55"/>
<circle cx="480.0" cy="1376.9" r="11.5" fill="#fff" opacity="0.55"/>
<circle cx="482.5" cy="1437.7" r="11.5" fill="#fff" opacity="0.55"/>
<circle cx="482.5" cy="1509.2" r="11.5" fill="#fff" opacity="0.55"/>
<circle cx="483.7" cy="1594.1" r="11.5" fill="#fff" opacity="0.55"/>
<circle cx="486.0" cy="1655.8" r="11.5" fill="#fff" opacity="0.55"/>
<circle cx="488.5" cy="1682.2" r="11.5" fill="#fff" opacity="0.55"/>
<circle cx="488.6" cy="1698.7" r="11.5" fill="#fff" opacity="0.55"/>
<circle cx="488.7" cy="1714.4" r="11.5" fill="#fff" opacity="0.55"/>
<circle cx="488.7" cy="1730.0" r="11.5" fill="#fff" opacity="0.55"/>
<circle cx="488.7" cy="1738.9" r="11.5" fill="#fff" opacity="0.55"/>
<rect x="224.8" y="1720.4" width="16" height="16" rx="4.8" fill="#000"/>
<rect x="229.1" y="1720.2" width="16" height="16" rx="4.8" fill="#000"/>
<rect x="233.4" y="1720.0" width="16" height="16" rx="4.8" fill="#000"/>
<rect x="237.6" y="1719.8" width="16" height="16" rx="4.8" fill="#000"/>
<rect x="241.9" y="1719.5" width="16" height="16" rx="4.8" fill="#000"/>
<rect x="246.2" y="1719.3" width="16" height="16" rx="4.8" fill="#000"/>
<rect x="250.4" y="1719.0" width="16" height="16" rx="4.8" fill="#000"/>
<rect x="254.7" y="1718.7" width="16" height="16" rx="4.8" fill="#000"/>
<rect x="259.0" y="1718.3" width="16" height="16" rx="4.8" fill="#000"/>
<rect x="263.2" y="1718.0" width="16" height="16" rx="4.8" fill="#000"/>
<rect x="267.5" y="1717.5" width="16" height="16" rx="4.8" fill="#000"/>
<rect x="271.8" y="1717.1" width="16" height="16" rx="4.8" fill="#000"/>
<rect x="276.0" y="1716.5" width="16" height="16" rx="4.8" fill="#000"/>
<rect x="280.3" y="1716.0" width="16" height="16" rx="4.8" fill="#000"/>
<rect x="284.6" y="1715.3" width="16" height="16" rx="4.8" fill="#000"/>
<rect x="288.8" y="1714.6" width="16" height="16" rx="4.8" fill="#000"/>
<rect x="293.1" y="1713.9" width="16" height="16" rx="4.8" fill="#000"/>
<rect x="297.4" y="1713.0" width="16" height="16" rx="4.8" fill="#000"/>
<rect x="301.6" y="1712.1" width="16" height="16" rx="4.8" fill="#000"/>
<rect x="305.9" y="1711.0" width="16" height="16" rx="4.8" fill="#000"/>
<rect x="310.1" y="1709.9" width="16" height="16" rx="4.8" fill="#000"/>
<rect x="314.4" y="1708.6" width="16" height="16" rx="4.8" fill="#000"/>
<rect x="318.7" y="1707.2" width="16" height="16" rx="4.8" fill="#000"/>
<rect x="322.9" y="1705.6" width="16" height="16" rx="4.8" fill="#000"/>
<rect x="327.2" y="1703.9" width="16" height="16" rx="4.8" fill="#000"/>
<rect x="331.5" y="1702.0" width="16" height="16" rx="4.8" fill="#000"/>
<rect x="335.7" y="1699.9" width="16" height="16" rx="4.8" fill="#000"/>
<rect x="340.0" y="1697.5" width="16" height="16" rx="4.8" fill="#000"/>
<rect x="344.3" y="1695.0" width="16" height="16" rx="4.8" fill="#000"/>
<rect x="348.5" y="1692.1" width="16" height="16" rx="4.8" fill="#000"/>
<rect x="352.8" y="1689.0" width="16" height="16" rx="4.8" fill="#000"/>
<rect x="357.1" y="1685.5" width="16" height="16" rx="4.8" fill="#000"/>
<rect x="361.3" y="1681.7" width="16" height="16" rx="4.8" fill="#000"/>
<rect x="365.6" y="1677.4" width="16" height="16" rx="4.8" fill="#000"/>
<rect x="369.9" y="1672.7" width="16" height="16" rx="4.8" fill="#000"/>
<rect x="374.1" y="1667.6" width="16" height="16" rx="4.8" fill="#000"/>
<rect x="378.4" y="1661.8" width="16" height="16" rx="4.8" fill="#000"/>
<rect x="382.7" y="1655.5" width="16" height="16" rx="4.8" fill="#000"/>
<rect x="386.9" y="1648.5" width="16" height="16" rx="4.8" fill="#000"/>
<rect x="391.2" y="1640.8" width="16" height="16" rx="4.8" fill="#000"/>
<rect x="395.4" y="1632.2" width="16" height="16" rx="4.8" fill="#000"/>
<rect x="399.7" y="1622.8" width="16" height="16" rx="4.8" fill="#000"/>
<rect x="404.0" y="1612.4" width="16" height="16" rx="4.8" fill="#000"/>
<rect x="408.2" y="1600.8" width="16" height="16" rx="4.8" fill="#000"/>
<rect x="412.5" y="1588.1" width="16" height="16" rx="4.8" fill="#000"/>
<rect x="416.8" y="1574.0" width="16" height="16" rx="4.8" fill="#000"/>
<rect x="421.0" y="1558.4" width="16" height="16" rx="4.8" fill="#000"/>
<rect x="425.3" y="1541.2" width="16" height="16" rx="4.8" fill="#000"/>
<rect x="429.6" y="1522.2" width="16" height="16" rx="4.8" fill="#000"/>
<rect x="433.8" y="1501.2" width="16" height="16" rx="4.8" fill="#000"/>
<rect x="438.1" y="1478.0" width="16" height="16" rx="4.8" fill="#000"/>
<rect x="442.4" y="1452.3" width="16" height="16" rx="4.8" fill="#000"/>
<rect x="446.6" y="1424.0" width="16" height="16" rx="4.8" fill="#000"/>
<rect x="450.9" y="1392.6" width="16" height="16" rx="4.8" fill="#000"/>
<rect x="455.2" y="1358.0" width="16" height="16" rx="4.8" fill="#000"/>
<rect x="459.4" y="1319.7" width="16" height="16" rx="4.8" fill="#000"/>
<rect x="463.3" y="1319.7" width="16" height="16" rx="4.8" fill="#000"/>
<rect x="464.5" y="1342.0" width="16" height="16" rx="4.8" fill="#000"/>
<rect x="472.0" y="1368.9" width="16" height="16" rx="4.8" fill="#000"/>
<rect x="474.5" y="1429.7" width="16" height="16" rx="4.8" fill="#000"/>
<rect x="474.5" y="1501.2" width="16" height="16" rx="4.8" fill="#000"/>
<rect x="475.7" y="1586.1" width="16" height="16" rx="4.8" fill="#000"/>
<rect x="478.0" y="1647.8" width="16" height="16" rx="4.8" fill="#000"/>
<rect x="480.5" y="1674.2" width="16" height="16" rx="4.8" fill="#000"/>
<rect x="480.6" y="1690.7" width="16" height="16" rx="4.8" fill="#000"/>
<rect x="480.7" y="1706.4" width="16" height="16" rx="4.8" fill="#000"/>
<rect x="480.7" y="1722.0" width="16" height="16" rx="4.8" fill="#000"/>
<rect x="480.7" y="1730.9" width="16" height="16" rx="4.8" fill="#000"/>
</g>
<g stroke="#1a1a1a" stroke-width="4"><line x1="233.7" y1="1777" x2="233.7" y2="1763"/><line x1="233.7" y1="1281" x2="233.7" y2="1295"/><line x1="319.0" y1="1777" x2="319.0" y2="1763"/><line x1="319.0" y1="1281" x2="319.0" y2="1295"/><line x1="404.3" y1="1777" x2="404.3" y2="1763"/><line x1="404.3" y1="1281" x2="404.3" y2="1295"/><line x1="489.6" y1="1777" x2="489.6" y2="1763"/><line x1="489.6" y1="1281" x2="489.6" y2="1295"/><line x1="574.9" y1="1777" x2="574.9" y2="1763"/><line x1="574.9" y1="1281" x2="574.9" y2="1295"/><line x1="660.2" y1="1777" x2="660.2" y2="1763"/><line x1="660.2" y1="1281" x2="660.2" y2="1295"/><line x1="745.5" y1="1777" x2="745.5" y2="1763"/><line x1="745.5" y1="1281" x2="745.5" y2="1295"/><line x1="276.4" y1="1777" x2="276.4" y2="1770"/><line x1="276.4" y1="1281" x2="276.4" y2="1288"/><line x1="361.7" y1="1777" x2="361.7" y2="1770"/><line x1="361.7" y1="1281" x2="361.7" y2="1288"/><line x1="447.0" y1="1777" x2="447.0" y2="1770"/><line x1="447.0" y1="1281" x2="447.0" y2="1288"/><line x1="532.2" y1="1777" x2="532.2" y2="1770"/><line x1="532.2" y1="1281" x2="532.2" y2="1288"/><line x1="617.5" y1="1777" x2="617.5" y2="1770"/><line x1="617.5" y1="1281" x2="617.5" y2="1288"/><line x1="702.9" y1="1777" x2="702.9" y2="1770"/><line x1="702.9" y1="1281" x2="702.9" y2="1288"/><line x1="211" y1="1730.0" x2="225" y2="1730.0"/><line x1="768" y1="1730.0" x2="754" y2="1730.0"/><line x1="211" y1="1640.6" x2="225" y2="1640.6"/><line x1="768" y1="1640.6" x2="754" y2="1640.6"/><line x1="211" y1="1551.2" x2="225" y2="1551.2"/><line x1="768" y1="1551.2" x2="754" y2="1551.2"/><line x1="211" y1="1461.8" x2="225" y2="1461.8"/><line x1="768" y1="1461.8" x2="754" y2="1461.8"/><line x1="211" y1="1372.4" x2="225" y2="1372.4"/><line x1="768" y1="1372.4" x2="754" y2="1372.4"/><line x1="211" y1="1283.0" x2="225" y2="1283.0"/><line x1="768" y1="1283.0" x2="754" y2="1283.0"/><line x1="211" y1="1774.7" x2="218" y2="1774.7"/><line x1="768" y1="1774.7" x2="761" y2="1774.7"/><line x1="211" y1="1685.3" x2="218" y2="1685.3"/><line x1="768" y1="1685.3" x2="761" y2="1685.3"/><line x1="211" y1="1595.9" x2="218" y2="1595.9"/><line x1="768" y1="1595.9" x2="761" y2="1595.9"/><line x1="211" y1="1506.5" x2="218" y2="1506.5"/><line x1="768" y1="1506.5" x2="761" y2="1506.5"/><line x1="211" y1="1417.1" x2="218" y2="1417.1"/><line x1="768" y1="1417.1" x2="761" y2="1417.1"/><line x1="211" y1="1327.7" x2="218" y2="1327.7"/><line x1="768" y1="1327.7" x2="761" y2="1327.7"/></g>
<rect x="211" y="1281" width="557" height="496" fill="none" stroke="#1a1a1a" stroke-width="4" rx="2"/>
<g font-family='"Liberation Sans", Arial, sans-serif' font-size="43" fill="#111" stroke="#111" stroke-width="1.5" text-anchor="end" style="letter-spacing:-1.5px">
<text x="193" y="1745.0">0.0</text>
<text x="193" y="1655.6">0.2</text>
<text x="193" y="1566.2">0.4</text>
<text x="193" y="1476.8">0.6</text>
<text x="193" y="1387.4">0.8</text>
<text x="193" y="1298.0">1.0</text>
</g>
<g font-family='"Liberation Sans", Arial, sans-serif' font-size="43" fill="#111" stroke="#111" stroke-width="1.5" text-anchor="middle">
<text x="230.7" y="1827">-3</text>
<text x="316.0" y="1827">-2</text>
<text x="401.3" y="1827">-1</text>
<text x="489.6" y="1827">0</text>
<text x="574.9" y="1827">1</text>
<text x="660.2" y="1827">2</text>
<text x="745.5" y="1827">3</text>
</g>
<text x="489" y="1888" font-family='"Liberation Sans", Arial, sans-serif' font-size="62" fill="#1a1a1a" stroke="#1a1a1a" stroke-width="1.6" text-anchor="middle">z / cm</text>
<text x="663" y="1346" font-family='"Liberation Sans", Arial, sans-serif' font-size="41" fill="#111" stroke="#111" stroke-width="1.5" text-anchor="middle" style="letter-spacing:-0.5px">r = 0 cm</text>
<text transform="translate(95,1516) rotate(-90)" font-family='"Liberation Sans", Arial, sans-serif' font-size="60" fill="#1a1a1a" stroke="#1a1a1a" stroke-width="1.5" text-anchor="middle">v<tspan dy="12" font-size="36">z</tspan><tspan dy="-12"> / 10</tspan><tspan dy="-24" font-size="34">-3</tspan><tspan dy="24"> m s</tspan><tspan dy="-24" font-size="34">-1</tspan></text>
<rect x="979" y="1280" width="280.4" height="494" fill="#00ffff"/>
<rect x="1259.4" y="1280" width="275.6" height="494" fill="#c3c3c3"/>
<g clip-path="url(#clipP2)">
<path d="M1021.5,1728.0 L1025.5,1728.0 L1029.4,1728.0 L1033.4,1728.0 L1037.4,1728.0 L1041.3,1728.0 L1045.3,1728.0 L1049.3,1728.0 L1053.2,1728.0 L1057.2,1728.0 L1061.1,1728.0 L1065.1,1728.0 L1069.1,1728.0 L1073.0,1728.0 L1077.0,1728.0 L1081.0,1728.0 L1084.9,1728.0 L1088.9,1728.0 L1092.9,1728.0 L1096.8,1728.0 L1100.8,1728.0 L1104.8,1728.0 L1108.7,1728.0 L1112.7,1728.0 L1116.7,1728.0 L1120.6,1728.0 L1124.6,1728.0 L1128.6,1728.0 L1132.5,1728.0 L1136.5,1728.0 L1140.4,1728.0 L1144.4,1728.0 L1148.4,1728.0 L1152.3,1728.0 L1156.3,1728.0 L1160.3,1728.0 L1164.2,1728.0 L1168.2,1728.0 L1172.2,1728.0 L1176.1,1728.0 L1180.1,1728.0 L1184.1,1728.0 L1188.0,1728.0 L1192.0,1728.0 L1196.0,1728.0 L1199.9,1728.0 L1203.9,1728.0 L1207.9,1728.0 L1211.8,1728.0 L1215.8,1728.0 L1219.8,1728.0 L1223.7,1728.0 L1221.0,1726.7 L1227.0,1721.3 L1232.0,1710.2 L1236.0,1701.3 L1241.6,1670.2 L1245.0,1627.9 L1247.0,1585.6 L1247.0,1527.8 L1253.0,1469.9 L1254.0,1416.5 L1256.0,1372.0 L1257.0,1345.3 L1258.0,1314.2 L1260.2,1332.0 L1261.0,1349.8 L1261.8,1367.5 L1265.7,1351.2 L1269.7,1379.5 L1273.7,1405.7 L1277.6,1429.9 L1281.6,1452.3 L1285.6,1473.0 L1289.5,1492.2 L1293.5,1509.9 L1297.5,1526.3 L1301.4,1541.5 L1305.4,1555.5 L1309.4,1568.4 L1313.3,1580.4 L1317.3,1591.5 L1321.3,1601.8 L1325.2,1611.3 L1329.2,1620.0 L1333.1,1628.2 L1337.1,1635.7 L1341.1,1642.6 L1345.0,1649.0 L1349.0,1655.0 L1353.0,1660.4 L1356.9,1665.5 L1360.9,1670.2 L1364.9,1674.6 L1368.8,1678.6 L1372.8,1682.3 L1376.8,1685.7 L1380.7,1688.9 L1384.7,1691.8 L1388.7,1694.6 L1392.6,1697.1 L1396.6,1699.4 L1400.6,1701.5 L1404.5,1703.5 L1408.5,1705.4 L1412.4,1707.1 L1416.4,1708.6 L1420.4,1710.1 L1424.3,1711.4 L1428.3,1712.7 L1432.3,1713.8 L1436.2,1714.9 L1440.2,1715.9 L1444.2,1716.8 L1448.1,1717.6 L1452.1,1718.4 L1456.1,1719.1 L1460.0,1719.8 L1464.0,1720.4 L1468.0,1721.0 L1471.9,1721.5 L1475.9,1722.0 L1479.9,1722.5 L1483.8,1722.9 L1487.8,1723.3 L1491.7,1723.6 L1495.7,1723.9" transform="translate(-3,14)" fill="none" stroke="#fff" stroke-width="3" opacity="0.85"/>
<path d="M1021.5,1728.0 L1025.5,1728.0 L1029.4,1728.0 L1033.4,1728.0 L1037.4,1728.0 L1041.3,1728.0 L1045.3,1728.0 L1049.3,1728.0 L1053.2,1728.0 L1057.2,1728.0 L1061.1,1728.0 L1065.1,1728.0 L1069.1,1728.0 L1073.0,1728.0 L1077.0,1728.0 L1081.0,1728.0 L1084.9,1728.0 L1088.9,1728.0 L1092.9,1728.0 L1096.8,1728.0 L1100.8,1728.0 L1104.8,1728.0 L1108.7,1728.0 L1112.7,1728.0 L1116.7,1728.0 L1120.6,1728.0 L1124.6,1728.0 L1128.6,1728.0 L1132.5,1728.0 L1136.5,1728.0 L1140.4,1728.0 L1144.4,1728.0 L1148.4,1728.0 L1152.3,1728.0 L1156.3,1728.0 L1160.3,1728.0 L1164.2,1728.0 L1168.2,1728.0 L1172.2,1728.0 L1176.1,1728.0 L1180.1,1728.0 L1184.1,1728.0 L1188.0,1728.0 L1192.0,1728.0 L1196.0,1728.0 L1199.9,1728.0 L1203.9,1728.0 L1207.9,1728.0 L1211.8,1728.0 L1215.8,1728.0 L1219.8,1728.0 L1223.7,1728.0 L1227.7,1728.0 L1231.6,1728.0 L1235.6,1728.0 L1239.6,1728.0 L1243.5,1728.0 L1247.5,1728.0 L1251.5,1728.0 L1255.4,1728.0 L1251.0,1723.5 L1252.0,1714.7 L1254.0,1688.8 L1255.2,1640.8 L1255.5,1599.0 L1256.0,1576.7 L1256.5,1558.9 L1257.0,1541.1 L1258.0,1523.3 L1259.0,1510.0 L1260.5,1501.0 L1262.0,1496.6 L1264.0,1496.6 L1267.3,1514.5 L1271.3,1531.1 L1275.3,1546.3 L1279.2,1560.4 L1283.2,1573.4 L1287.2,1585.4 L1291.1,1596.4 L1295.1,1606.6 L1299.1,1616.0 L1303.0,1624.7 L1307.0,1632.7 L1310.9,1640.1 L1314.9,1646.9 L1318.9,1653.2 L1322.8,1659.0 L1326.8,1664.3 L1330.8,1669.3 L1334.7,1673.8 L1338.7,1678.0 L1342.7,1681.9 L1346.6,1685.5 L1350.6,1688.7 L1354.6,1691.8 L1358.5,1694.6 L1362.5,1697.2 L1366.5,1699.6 L1370.4,1701.8 L1374.4,1703.8 L1378.4,1705.7 L1382.3,1707.4 L1386.3,1709.0 L1390.2,1710.5 L1394.2,1711.8 L1398.2,1713.1 L1402.1,1714.2 L1406.1,1715.3 L1410.1,1716.3 L1414.0,1717.2 L1418.0,1718.0 L1422.0,1718.8 L1425.9,1719.5 L1429.9,1720.2 L1433.9,1720.8 L1437.8,1721.3 L1441.8,1721.9 L1445.8,1722.3 L1449.7,1722.8 L1453.7,1723.2 L1457.7,1723.6 L1461.6,1723.9 L1465.6,1724.2 L1469.5,1724.5 L1473.5,1724.8 L1477.5,1725.0 L1481.4,1725.3 L1485.4,1725.5 L1489.4,1725.7 L1493.3,1725.8 L1497.3,1726.0" transform="translate(-3,14)" fill="none" stroke="#fff" stroke-width="3" opacity="0.85"/>
<path d="M1021.5,1728.0 L1025.5,1728.0 L1029.4,1728.0 L1033.4,1728.0 L1037.4,1728.0 L1041.3,1728.0 L1045.3,1728.0 L1049.3,1728.0 L1053.2,1728.0 L1057.2,1728.0 L1061.1,1728.0 L1065.1,1728.0 L1069.1,1728.0 L1073.0,1728.0 L1077.0,1728.0 L1081.0,1728.0 L1084.9,1728.0 L1088.9,1728.0 L1092.9,1728.0 L1096.8,1728.0 L1100.8,1728.0 L1104.8,1728.0 L1108.7,1728.0 L1112.7,1728.0 L1116.7,1728.0 L1120.6,1728.0 L1124.6,1728.0 L1128.6,1728.0 L1132.5,1728.0 L1136.5,1728.0 L1140.4,1728.0 L1144.4,1728.0 L1148.4,1728.0 L1152.3,1728.0 L1156.3,1728.0 L1160.3,1728.0 L1164.2,1728.0 L1168.2,1728.0 L1172.2,1728.0 L1176.1,1728.0 L1180.1,1728.0 L1184.1,1728.0 L1188.0,1728.0 L1192.0,1728.0 L1196.0,1728.0 L1199.9,1728.0 L1203.9,1728.0 L1207.9,1728.0 L1211.8,1728.0 L1215.8,1728.0 L1219.8,1728.0 L1223.7,1728.0 L1221.0,1726.7 L1227.0,1721.3 L1232.0,1710.2 L1236.0,1701.3 L1241.6,1670.2 L1245.0,1627.9 L1247.0,1585.6 L1247.0,1527.8 L1253.0,1469.9 L1254.0,1416.5 L1256.0,1372.0 L1257.0,1345.3 L1258.0,1314.2 L1260.2,1332.0 L1261.0,1349.8 L1261.8,1367.5 L1265.7,1351.2 L1269.7,1379.5 L1273.7,1405.7 L1277.6,1429.9 L1281.6,1452.3 L1285.6,1473.0 L1289.5,1492.2 L1293.5,1509.9 L1297.5,1526.3 L1301.4,1541.5 L1305.4,1555.5 L1309.4,1568.4 L1313.3,1580.4 L1317.3,1591.5 L1321.3,1601.8 L1325.2,1611.3 L1329.2,1620.0 L1333.1,1628.2 L1337.1,1635.7 L1341.1,1642.6 L1345.0,1649.0 L1349.0,1655.0 L1353.0,1660.4 L1356.9,1665.5 L1360.9,1670.2 L1364.9,1674.6 L1368.8,1678.6 L1372.8,1682.3 L1376.8,1685.7 L1380.7,1688.9 L1384.7,1691.8 L1388.7,1694.6 L1392.6,1697.1 L1396.6,1699.4 L1400.6,1701.5 L1404.5,1703.5 L1408.5,1705.4 L1412.4,1707.1 L1416.4,1708.6 L1420.4,1710.1 L1424.3,1711.4 L1428.3,1712.7 L1432.3,1713.8 L1436.2,1714.9 L1440.2,1715.9 L1444.2,1716.8 L1448.1,1717.6 L1452.1,1718.4 L1456.1,1719.1 L1460.0,1719.8 L1464.0,1720.4 L1468.0,1721.0 L1471.9,1721.5 L1475.9,1722.0 L1479.9,1722.5 L1483.8,1722.9 L1487.8,1723.3 L1491.7,1723.6 L1495.7,1723.9" fill="none" stroke="#7a2020" stroke-width="2.5"/>
<circle cx="1021.5" cy="1728.0" r="12.0" fill="#fff" opacity="0.55"/>
<circle cx="1025.5" cy="1728.0" r="12.0" fill="#fff" opacity="0.55"/>
<circle cx="1029.4" cy="1728.0" r="12.0" fill="#fff" opacity="0.55"/>
<circle cx="1033.4" cy="1728.0" r="12.0" fill="#fff" opacity="0.55"/>
<circle cx="1037.4" cy="1728.0" r="12.0" fill="#fff" opacity="0.55"/>
<circle cx="1041.3" cy="1728.0" r="12.0" fill="#fff" opacity="0.55"/>
<circle cx="1045.3" cy="1728.0" r="12.0" fill="#fff" opacity="0.55"/>
<circle cx="1049.3" cy="1728.0" r="12.0" fill="#fff" opacity="0.55"/>
<circle cx="1053.2" cy="1728.0" r="12.0" fill="#fff" opacity="0.55"/>
<circle cx="1057.2" cy="1728.0" r="12.0" fill="#fff" opacity="0.55"/>
<circle cx="1061.1" cy="1728.0" r="12.0" fill="#fff" opacity="0.55"/>
<circle cx="1065.1" cy="1728.0" r="12.0" fill="#fff" opacity="0.55"/>
<circle cx="1069.1" cy="1728.0" r="12.0" fill="#fff" opacity="0.55"/>
<circle cx="1073.0" cy="1728.0" r="12.0" fill="#fff" opacity="0.55"/>
<circle cx="1077.0" cy="1728.0" r="12.0" fill="#fff" opacity="0.55"/>
<circle cx="1081.0" cy="1728.0" r="12.0" fill="#fff" opacity="0.55"/>
<circle cx="1084.9" cy="1728.0" r="12.0" fill="#fff" opacity="0.55"/>
<circle cx="1088.9" cy="1728.0" r="12.0" fill="#fff" opacity="0.55"/>
<circle cx="1092.9" cy="1728.0" r="12.0" fill="#fff" opacity="0.55"/>
<circle cx="1096.8" cy="1728.0" r="12.0" fill="#fff" opacity="0.55"/>
<circle cx="1100.8" cy="1728.0" r="12.0" fill="#fff" opacity="0.55"/>
<circle cx="1104.8" cy="1728.0" r="12.0" fill="#fff" opacity="0.55"/>
<circle cx="1108.7" cy="1728.0" r="12.0" fill="#fff" opacity="0.55"/>
<circle cx="1112.7" cy="1728.0" r="12.0" fill="#fff" opacity="0.55"/>
<circle cx="1116.7" cy="1728.0" r="12.0" fill="#fff" opacity="0.55"/>
<circle cx="1120.6" cy="1728.0" r="12.0" fill="#fff" opacity="0.55"/>
<circle cx="1124.6" cy="1728.0" r="12.0" fill="#fff" opacity="0.55"/>
<circle cx="1128.6" cy="1728.0" r="12.0" fill="#fff" opacity="0.55"/>
<circle cx="1132.5" cy="1728.0" r="12.0" fill="#fff" opacity="0.55"/>
<circle cx="1136.5" cy="1728.0" r="12.0" fill="#fff" opacity="0.55"/>
<circle cx="1140.4" cy="1728.0" r="12.0" fill="#fff" opacity="0.55"/>
<circle cx="1144.4" cy="1728.0" r="12.0" fill="#fff" opacity="0.55"/>
<circle cx="1148.4" cy="1728.0" r="12.0" fill="#fff" opacity="0.55"/>
<circle cx="1152.3" cy="1728.0" r="12.0" fill="#fff" opacity="0.55"/>
<circle cx="1156.3" cy="1728.0" r="12.0" fill="#fff" opacity="0.55"/>
<circle cx="1160.3" cy="1728.0" r="12.0" fill="#fff" opacity="0.55"/>
<circle cx="1164.2" cy="1728.0" r="12.0" fill="#fff" opacity="0.55"/>
<circle cx="1168.2" cy="1728.0" r="12.0" fill="#fff" opacity="0.55"/>
<circle cx="1172.2" cy="1728.0" r="12.0" fill="#fff" opacity="0.55"/>
<circle cx="1176.1" cy="1728.0" r="12.0" fill="#fff" opacity="0.55"/>
<circle cx="1180.1" cy="1728.0" r="12.0" fill="#fff" opacity="0.55"/>
<circle cx="1184.1" cy="1728.0" r="12.0" fill="#fff" opacity="0.55"/>
<circle cx="1188.0" cy="1728.0" r="12.0" fill="#fff" opacity="0.55"/>
<circle cx="1192.0" cy="1728.0" r="12.0" fill="#fff" opacity="0.55"/>
<circle cx="1196.0" cy="1728.0" r="12.0" fill="#fff" opacity="0.55"/>
<circle cx="1199.9" cy="1728.0" r="12.0" fill="#fff" opacity="0.55"/>
<circle cx="1203.9" cy="1728.0" r="12.0" fill="#fff" opacity="0.55"/>
<circle cx="1207.9" cy="1728.0" r="12.0" fill="#fff" opacity="0.55"/>
<circle cx="1211.8" cy="1728.0" r="12.0" fill="#fff" opacity="0.55"/>
<circle cx="1215.8" cy="1728.0" r="12.0" fill="#fff" opacity="0.55"/>
<circle cx="1219.8" cy="1728.0" r="12.0" fill="#fff" opacity="0.55"/>
<circle cx="1223.7" cy="1728.0" r="12.0" fill="#fff" opacity="0.55"/>
<circle cx="1221.0" cy="1726.7" r="12.0" fill="#fff" opacity="0.55"/>
<circle cx="1227.0" cy="1721.3" r="12.0" fill="#fff" opacity="0.55"/>
<circle cx="1232.0" cy="1710.2" r="12.0" fill="#fff" opacity="0.55"/>
<circle cx="1236.0" cy="1701.3" r="12.0" fill="#fff" opacity="0.55"/>
<circle cx="1241.6" cy="1670.2" r="12.0" fill="#fff" opacity="0.55"/>
<circle cx="1245.0" cy="1627.9" r="12.0" fill="#fff" opacity="0.55"/>
<circle cx="1247.0" cy="1585.6" r="12.0" fill="#fff" opacity="0.55"/>
<circle cx="1247.0" cy="1527.8" r="12.0" fill="#fff" opacity="0.55"/>
<circle cx="1253.0" cy="1469.9" r="12.0" fill="#fff" opacity="0.55"/>
<circle cx="1254.0" cy="1416.5" r="12.0" fill="#fff" opacity="0.55"/>
<circle cx="1256.0" cy="1372.0" r="12.0" fill="#fff" opacity="0.55"/>
<circle cx="1257.0" cy="1345.3" r="12.0" fill="#fff" opacity="0.55"/>
<circle cx="1258.0" cy="1314.2" r="12.0" fill="#fff" opacity="0.55"/>
<circle cx="1260.2" cy="1332.0" r="12.0" fill="#fff" opacity="0.55"/>
<circle cx="1261.0" cy="1349.8" r="12.0" fill="#fff" opacity="0.55"/>
<circle cx="1261.8" cy="1367.5" r="12.0" fill="#fff" opacity="0.55"/>
<circle cx="1265.7" cy="1351.2" r="12.0" fill="#fff" opacity="0.55"/>
<circle cx="1269.7" cy="1379.5" r="12.0" fill="#fff" opacity="0.55"/>
<circle cx="1273.7" cy="1405.7" r="12.0" fill="#fff" opacity="0.55"/>
<circle cx="1277.6" cy="1429.9" r="12.0" fill="#fff" opacity="0.55"/>
<circle cx="1281.6" cy="1452.3" r="12.0" fill="#fff" opacity="0.55"/>
<circle cx="1285.6" cy="1473.0" r="12.0" fill="#fff" opacity="0.55"/>
<circle cx="1289.5" cy="1492.2" r="12.0" fill="#fff" opacity="0.55"/>
<circle cx="1293.5" cy="1509.9" r="12.0" fill="#fff" opacity="0.55"/>
<circle cx="1297.5" cy="1526.3" r="12.0" fill="#fff" opacity="0.55"/>
<circle cx="1301.4" cy="1541.5" r="12.0" fill="#fff" opacity="0.55"/>
<circle cx="1305.4" cy="1555.5" r="12.0" fill="#fff" opacity="0.55"/>
<circle cx="1309.4" cy="1568.4" r="12.0" fill="#fff" opacity="0.55"/>
<circle cx="1313.3" cy="1580.4" r="12.0" fill="#fff" opacity="0.55"/>
<circle cx="1317.3" cy="1591.5" r="12.0" fill="#fff" opacity="0.55"/>
<circle cx="1321.3" cy="1601.8" r="12.0" fill="#fff" opacity="0.55"/>
<circle cx="1325.2" cy="1611.3" r="12.0" fill="#fff" opacity="0.55"/>
<circle cx="1329.2" cy="1620.0" r="12.0" fill="#fff" opacity="0.55"/>
<circle cx="1333.1" cy="1628.2" r="12.0" fill="#fff" opacity="0.55"/>
<circle cx="1337.1" cy="1635.7" r="12.0" fill="#fff" opacity="0.55"/>
<circle cx="1341.1" cy="1642.6" r="12.0" fill="#fff" opacity="0.55"/>
<circle cx="1345.0" cy="1649.0" r="12.0" fill="#fff" opacity="0.55"/>
<circle cx="1349.0" cy="1655.0" r="12.0" fill="#fff" opacity="0.55"/>
<circle cx="1353.0" cy="1660.4" r="12.0" fill="#fff" opacity="0.55"/>
<circle cx="1356.9" cy="1665.5" r="12.0" fill="#fff" opacity="0.55"/>
<circle cx="1360.9" cy="1670.2" r="12.0" fill="#fff" opacity="0.55"/>
<circle cx="1364.9" cy="1674.6" r="12.0" fill="#fff" opacity="0.55"/>
<circle cx="1368.8" cy="1678.6" r="12.0" fill="#fff" opacity="0.55"/>
<circle cx="1372.8" cy="1682.3" r="12.0" fill="#fff" opacity="0.55"/>
<circle cx="1376.8" cy="1685.7" r="12.0" fill="#fff" opacity="0.55"/>
<circle cx="1380.7" cy="1688.9" r="12.0" fill="#fff" opacity="0.55"/>
<circle cx="1384.7" cy="1691.8" r="12.0" fill="#fff" opacity="0.55"/>
<circle cx="1388.7" cy="1694.6" r="12.0" fill="#fff" opacity="0.55"/>
<circle cx="1392.6" cy="1697.1" r="12.0" fill="#fff" opacity="0.55"/>
<circle cx="1396.6" cy="1699.4" r="12.0" fill="#fff" opacity="0.55"/>
<circle cx="1400.6" cy="1701.5" r="12.0" fill="#fff" opacity="0.55"/>
<circle cx="1404.5" cy="1703.5" r="12.0" fill="#fff" opacity="0.55"/>
<circle cx="1408.5" cy="1705.4" r="12.0" fill="#fff" opacity="0.55"/>
<circle cx="1412.4" cy="1707.1" r="12.0" fill="#fff" opacity="0.55"/>
<circle cx="1416.4" cy="1708.6" r="12.0" fill="#fff" opacity="0.55"/>
<circle cx="1420.4" cy="1710.1" r="12.0" fill="#fff" opacity="0.55"/>
<circle cx="1424.3" cy="1711.4" r="12.0" fill="#fff" opacity="0.55"/>
<circle cx="1428.3" cy="1712.7" r="12.0" fill="#fff" opacity="0.55"/>
<circle cx="1432.3" cy="1713.8" r="12.0" fill="#fff" opacity="0.55"/>
<circle cx="1436.2" cy="1714.9" r="12.0" fill="#fff" opacity="0.55"/>
<circle cx="1440.2" cy="1715.9" r="12.0" fill="#fff" opacity="0.55"/>
<circle cx="1444.2" cy="1716.8" r="12.0" fill="#fff" opacity="0.55"/>
<circle cx="1448.1" cy="1717.6" r="12.0" fill="#fff" opacity="0.55"/>
<circle cx="1452.1" cy="1718.4" r="12.0" fill="#fff" opacity="0.55"/>
<circle cx="1456.1" cy="1719.1" r="12.0" fill="#fff" opacity="0.55"/>
<circle cx="1460.0" cy="1719.8" r="12.0" fill="#fff" opacity="0.55"/>
<circle cx="1464.0" cy="1720.4" r="12.0" fill="#fff" opacity="0.55"/>
<circle cx="1468.0" cy="1721.0" r="12.0" fill="#fff" opacity="0.55"/>
<circle cx="1471.9" cy="1721.5" r="12.0" fill="#fff" opacity="0.55"/>
<circle cx="1475.9" cy="1722.0" r="12.0" fill="#fff" opacity="0.55"/>
<circle cx="1479.9" cy="1722.5" r="12.0" fill="#fff" opacity="0.55"/>
<circle cx="1483.8" cy="1722.9" r="12.0" fill="#fff" opacity="0.55"/>
<circle cx="1487.8" cy="1723.3" r="12.0" fill="#fff" opacity="0.55"/>
<circle cx="1491.7" cy="1723.6" r="12.0" fill="#fff" opacity="0.55"/>
<circle cx="1495.7" cy="1723.9" r="12.0" fill="#fff" opacity="0.55"/>
<circle cx="1021.5" cy="1728.0" r="8.5" fill="#a00000"/>
<circle cx="1025.5" cy="1728.0" r="8.5" fill="#a00000"/>
<circle cx="1029.4" cy="1728.0" r="8.5" fill="#a00000"/>
<circle cx="1033.4" cy="1728.0" r="8.5" fill="#a00000"/>
<circle cx="1037.4" cy="1728.0" r="8.5" fill="#a00000"/>
<circle cx="1041.3" cy="1728.0" r="8.5" fill="#a00000"/>
<circle cx="1045.3" cy="1728.0" r="8.5" fill="#a00000"/>
<circle cx="1049.3" cy="1728.0" r="8.5" fill="#a00000"/>
<circle cx="1053.2" cy="1728.0" r="8.5" fill="#a00000"/>
<circle cx="1057.2" cy="1728.0" r="8.5" fill="#a00000"/>
<circle cx="1061.1" cy="1728.0" r="8.5" fill="#a00000"/>
<circle cx="1065.1" cy="1728.0" r="8.5" fill="#a00000"/>
<circle cx="1069.1" cy="1728.0" r="8.5" fill="#a00000"/>
<circle cx="1073.0" cy="1728.0" r="8.5" fill="#a00000"/>
<circle cx="1077.0" cy="1728.0" r="8.5" fill="#a00000"/>
<circle cx="1081.0" cy="1728.0" r="8.5" fill="#a00000"/>
<circle cx="1084.9" cy="1728.0" r="8.5" fill="#a00000"/>
<circle cx="1088.9" cy="1728.0" r="8.5" fill="#a00000"/>
<circle cx="1092.9" cy="1728.0" r="8.5" fill="#a00000"/>
<circle cx="1096.8" cy="1728.0" r="8.5" fill="#a00000"/>
<circle cx="1100.8" cy="1728.0" r="8.5" fill="#a00000"/>
<circle cx="1104.8" cy="1728.0" r="8.5" fill="#a00000"/>
<circle cx="1108.7" cy="1728.0" r="8.5" fill="#a00000"/>
<circle cx="1112.7" cy="1728.0" r="8.5" fill="#a00000"/>
<circle cx="1116.7" cy="1728.0" r="8.5" fill="#a00000"/>
<circle cx="1120.6" cy="1728.0" r="8.5" fill="#a00000"/>
<circle cx="1124.6" cy="1728.0" r="8.5" fill="#a00000"/>
<circle cx="1128.6" cy="1728.0" r="8.5" fill="#a00000"/>
<circle cx="1132.5" cy="1728.0" r="8.5" fill="#a00000"/>
<circle cx="1136.5" cy="1728.0" r="8.5" fill="#a00000"/>
<circle cx="1140.4" cy="1728.0" r="8.5" fill="#a00000"/>
<circle cx="1144.4" cy="1728.0" r="8.5" fill="#a00000"/>
<circle cx="1148.4" cy="1728.0" r="8.5" fill="#a00000"/>
<circle cx="1152.3" cy="1728.0" r="8.5" fill="#a00000"/>
<circle cx="1156.3" cy="1728.0" r="8.5" fill="#a00000"/>
<circle cx="1160.3" cy="1728.0" r="8.5" fill="#a00000"/>
<circle cx="1164.2" cy="1728.0" r="8.5" fill="#a00000"/>
<circle cx="1168.2" cy="1728.0" r="8.5" fill="#a00000"/>
<circle cx="1172.2" cy="1728.0" r="8.5" fill="#a00000"/>
<circle cx="1176.1" cy="1728.0" r="8.5" fill="#a00000"/>
<circle cx="1180.1" cy="1728.0" r="8.5" fill="#a00000"/>
<circle cx="1184.1" cy="1728.0" r="8.5" fill="#a00000"/>
<circle cx="1188.0" cy="1728.0" r="8.5" fill="#a00000"/>
<circle cx="1192.0" cy="1728.0" r="8.5" fill="#a00000"/>
<circle cx="1196.0" cy="1728.0" r="8.5" fill="#a00000"/>
<circle cx="1199.9" cy="1728.0" r="8.5" fill="#a00000"/>
<circle cx="1203.9" cy="1728.0" r="8.5" fill="#a00000"/>
<circle cx="1207.9" cy="1728.0" r="8.5" fill="#a00000"/>
<circle cx="1211.8" cy="1728.0" r="8.5" fill="#a00000"/>
<circle cx="1215.8" cy="1728.0" r="8.5" fill="#a00000"/>
<circle cx="1219.8" cy="1728.0" r="8.5" fill="#a00000"/>
<circle cx="1223.7" cy="1728.0" r="8.5" fill="#a00000"/>
<circle cx="1221.0" cy="1726.7" r="8.5" fill="#a00000"/>
<circle cx="1227.0" cy="1721.3" r="8.5" fill="#a00000"/>
<circle cx="1232.0" cy="1710.2" r="8.5" fill="#a00000"/>
<circle cx="1236.0" cy="1701.3" r="8.5" fill="#a00000"/>
<circle cx="1241.6" cy="1670.2" r="8.5" fill="#a00000"/>
<circle cx="1245.0" cy="1627.9" r="8.5" fill="#a00000"/>
<circle cx="1247.0" cy="1585.6" r="8.5" fill="#a00000"/>
<circle cx="1247.0" cy="1527.8" r="8.5" fill="#a00000"/>
<circle cx="1253.0" cy="1469.9" r="8.5" fill="#a00000"/>
<circle cx="1254.0" cy="1416.5" r="8.5" fill="#a00000"/>
<circle cx="1256.0" cy="1372.0" r="8.5" fill="#a00000"/>
<circle cx="1257.0" cy="1345.3" r="8.5" fill="#a00000"/>
<circle cx="1258.0" cy="1314.2" r="8.5" fill="#a00000"/>
<circle cx="1260.2" cy="1332.0" r="8.5" fill="#a00000"/>
<circle cx="1261.0" cy="1349.8" r="8.5" fill="#a00000"/>
<circle cx="1261.8" cy="1367.5" r="8.5" fill="#a00000"/>
<circle cx="1265.7" cy="1351.2" r="8.5" fill="#a00000"/>
<circle cx="1269.7" cy="1379.5" r="8.5" fill="#a00000"/>
<circle cx="1273.7" cy="1405.7" r="8.5" fill="#a00000"/>
<circle cx="1277.6" cy="1429.9" r="8.5" fill="#a00000"/>
<circle cx="1281.6" cy="1452.3" r="8.5" fill="#a00000"/>
<circle cx="1285.6" cy="1473.0" r="8.5" fill="#a00000"/>
<circle cx="1289.5" cy="1492.2" r="8.5" fill="#a00000"/>
<circle cx="1293.5" cy="1509.9" r="8.5" fill="#a00000"/>
<circle cx="1297.5" cy="1526.3" r="8.5" fill="#a00000"/>
<circle cx="1301.4" cy="1541.5" r="8.5" fill="#a00000"/>
<circle cx="1305.4" cy="1555.5" r="8.5" fill="#a00000"/>
<circle cx="1309.4" cy="1568.4" r="8.5" fill="#a00000"/>
<circle cx="1313.3" cy="1580.4" r="8.5" fill="#a00000"/>
<circle cx="1317.3" cy="1591.5" r="8.5" fill="#a00000"/>
<circle cx="1321.3" cy="1601.8" r="8.5" fill="#a00000"/>
<circle cx="1325.2" cy="1611.3" r="8.5" fill="#a00000"/>
<circle cx="1329.2" cy="1620.0" r="8.5" fill="#a00000"/>
<circle cx="1333.1" cy="1628.2" r="8.5" fill="#a00000"/>
<circle cx="1337.1" cy="1635.7" r="8.5" fill="#a00000"/>
<circle cx="1341.1" cy="1642.6" r="8.5" fill="#a00000"/>
<circle cx="1345.0" cy="1649.0" r="8.5" fill="#a00000"/>
<circle cx="1349.0" cy="1655.0" r="8.5" fill="#a00000"/>
<circle cx="1353.0" cy="1660.4" r="8.5" fill="#a00000"/>
<circle cx="1356.9" cy="1665.5" r="8.5" fill="#a00000"/>
<circle cx="1360.9" cy="1670.2" r="8.5" fill="#a00000"/>
<circle cx="1364.9" cy="1674.6" r="8.5" fill="#a00000"/>
<circle cx="1368.8" cy="1678.6" r="8.5" fill="#a00000"/>
<circle cx="1372.8" cy="1682.3" r="8.5" fill="#a00000"/>
<circle cx="1376.8" cy="1685.7" r="8.5" fill="#a00000"/>
<circle cx="1380.7" cy="1688.9" r="8.5" fill="#a00000"/>
<circle cx="1384.7" cy="1691.8" r="8.5" fill="#a00000"/>
<circle cx="1388.7" cy="1694.6" r="8.5" fill="#a00000"/>
<circle cx="1392.6" cy="1697.1" r="8.5" fill="#a00000"/>
<circle cx="1396.6" cy="1699.4" r="8.5" fill="#a00000"/>
<circle cx="1400.6" cy="1701.5" r="8.5" fill="#a00000"/>
<circle cx="1404.5" cy="1703.5" r="8.5" fill="#a00000"/>
<circle cx="1408.5" cy="1705.4" r="8.5" fill="#a00000"/>
<circle cx="1412.4" cy="1707.1" r="8.5" fill="#a00000"/>
<circle cx="1416.4" cy="1708.6" r="8.5" fill="#a00000"/>
<circle cx="1420.4" cy="1710.1" r="8.5" fill="#a00000"/>
<circle cx="1424.3" cy="1711.4" r="8.5" fill="#a00000"/>
<circle cx="1428.3" cy="1712.7" r="8.5" fill="#a00000"/>
<circle cx="1432.3" cy="1713.8" r="8.5" fill="#a00000"/>
<circle cx="1436.2" cy="1714.9" r="8.5" fill="#a00000"/>
<circle cx="1440.2" cy="1715.9" r="8.5" fill="#a00000"/>
<circle cx="1444.2" cy="1716.8" r="8.5" fill="#a00000"/>
<circle cx="1448.1" cy="1717.6" r="8.5" fill="#a00000"/>
<circle cx="1452.1" cy="1718.4" r="8.5" fill="#a00000"/>
<circle cx="1456.1" cy="1719.1" r="8.5" fill="#a00000"/>
<circle cx="1460.0" cy="1719.8" r="8.5" fill="#a00000"/>
<circle cx="1464.0" cy="1720.4" r="8.5" fill="#a00000"/>
<circle cx="1468.0" cy="1721.0" r="8.5" fill="#a00000"/>
<circle cx="1471.9" cy="1721.5" r="8.5" fill="#a00000"/>
<circle cx="1475.9" cy="1722.0" r="8.5" fill="#a00000"/>
<circle cx="1479.9" cy="1722.5" r="8.5" fill="#a00000"/>
<circle cx="1483.8" cy="1722.9" r="8.5" fill="#a00000"/>
<circle cx="1487.8" cy="1723.3" r="8.5" fill="#a00000"/>
<circle cx="1491.7" cy="1723.6" r="8.5" fill="#a00000"/>
<circle cx="1495.7" cy="1723.9" r="8.5" fill="#a00000"/>
<path d="M1021.5,1728.0 L1025.5,1728.0 L1029.4,1728.0 L1033.4,1728.0 L1037.4,1728.0 L1041.3,1728.0 L1045.3,1728.0 L1049.3,1728.0 L1053.2,1728.0 L1057.2,1728.0 L1061.1,1728.0 L1065.1,1728.0 L1069.1,1728.0 L1073.0,1728.0 L1077.0,1728.0 L1081.0,1728.0 L1084.9,1728.0 L1088.9,1728.0 L1092.9,1728.0 L1096.8,1728.0 L1100.8,1728.0 L1104.8,1728.0 L1108.7,1728.0 L1112.7,1728.0 L1116.7,1728.0 L1120.6,1728.0 L1124.6,1728.0 L1128.6,1728.0 L1132.5,1728.0 L1136.5,1728.0 L1140.4,1728.0 L1144.4,1728.0 L1148.4,1728.0 L1152.3,1728.0 L1156.3,1728.0 L1160.3,1728.0 L1164.2,1728.0 L1168.2,1728.0 L1172.2,1728.0 L1176.1,1728.0 L1180.1,1728.0 L1184.1,1728.0 L1188.0,1728.0 L1192.0,1728.0 L1196.0,1728.0 L1199.9,1728.0 L1203.9,1728.0 L1207.9,1728.0 L1211.8,1728.0 L1215.8,1728.0 L1219.8,1728.0 L1223.7,1728.0 L1227.7,1728.0 L1231.6,1728.0 L1235.6,1728.0 L1239.6,1728.0 L1243.5,1728.0 L1247.5,1728.0 L1251.5,1728.0 L1255.4,1728.0 L1251.0,1723.5 L1252.0,1714.7 L1254.0,1688.8 L1255.2,1640.8 L1255.5,1599.0 L1256.0,1576.7 L1256.5,1558.9 L1257.0,1541.1 L1258.0,1523.3 L1259.0,1510.0 L1260.5,1501.0 L1262.0,1496.6 L1264.0,1496.6 L1267.3,1514.5 L1271.3,1531.1 L1275.3,1546.3 L1279.2,1560.4 L1283.2,1573.4 L1287.2,1585.4 L1291.1,1596.4 L1295.1,1606.6 L1299.1,1616.0 L1303.0,1624.7 L1307.0,1632.7 L1310.9,1640.1 L1314.9,1646.9 L1318.9,1653.2 L1322.8,1659.0 L1326.8,1664.3 L1330.8,1669.3 L1334.7,1673.8 L1338.7,1678.0 L1342.7,1681.9 L1346.6,1685.5 L1350.6,1688.7 L1354.6,1691.8 L1358.5,1694.6 L1362.5,1697.2 L1366.5,1699.6 L1370.4,1701.8 L1374.4,1703.8 L1378.4,1705.7 L1382.3,1707.4 L1386.3,1709.0 L1390.2,1710.5 L1394.2,1711.8 L1398.2,1713.1 L1402.1,1714.2 L1406.1,1715.3 L1410.1,1716.3 L1414.0,1717.2 L1418.0,1718.0 L1422.0,1718.8 L1425.9,1719.5 L1429.9,1720.2 L1433.9,1720.8 L1437.8,1721.3 L1441.8,1721.9 L1445.8,1722.3 L1449.7,1722.8 L1453.7,1723.2 L1457.7,1723.6 L1461.6,1723.9 L1465.6,1724.2 L1469.5,1724.5 L1473.5,1724.8 L1477.5,1725.0 L1481.4,1725.3 L1485.4,1725.5 L1489.4,1725.7 L1493.3,1725.8 L1497.3,1726.0" fill="none" stroke="#000" stroke-width="2.5"/>
<circle cx="1021.5" cy="1728.0" r="12.0" fill="#fff" opacity="0.55"/>
<circle cx="1025.5" cy="1728.0" r="12.0" fill="#fff" opacity="0.55"/>
<circle cx="1029.4" cy="1728.0" r="12.0" fill="#fff" opacity="0.55"/>
<circle cx="1033.4" cy="1728.0" r="12.0" fill="#fff" opacity="0.55"/>
<circle cx="1037.4" cy="1728.0" r="12.0" fill="#fff" opacity="0.55"/>
<circle cx="1041.3" cy="1728.0" r="12.0" fill="#fff" opacity="0.55"/>
<circle cx="1045.3" cy="1728.0" r="12.0" fill="#fff" opacity="0.55"/>
<circle cx="1049.3" cy="1728.0" r="12.0" fill="#fff" opacity="0.55"/>
<circle cx="1053.2" cy="1728.0" r="12.0" fill="#fff" opacity="0.55"/>
<circle cx="1057.2" cy="1728.0" r="12.0" fill="#fff" opacity="0.55"/>
<circle cx="1061.1" cy="1728.0" r="12.0" fill="#fff" opacity="0.55"/>
<circle cx="1065.1" cy="1728.0" r="12.0" fill="#fff" opacity="0.55"/>
<circle cx="1069.1" cy="1728.0" r="12.0" fill="#fff" opacity="0.55"/>
<circle cx="1073.0" cy="1728.0" r="12.0" fill="#fff" opacity="0.55"/>
<circle cx="1077.0" cy="1728.0" r="12.0" fill="#fff" opacity="0.55"/>
<circle cx="1081.0" cy="1728.0" r="12.0" fill="#fff" opacity="0.55"/>
<circle cx="1084.9" cy="1728.0" r="12.0" fill="#fff" opacity="0.55"/>
<circle cx="1088.9" cy="1728.0" r="12.0" fill="#fff" opacity="0.55"/>
<circle cx="1092.9" cy="1728.0" r="12.0" fill="#fff" opacity="0.55"/>
<circle cx="1096.8" cy="1728.0" r="12.0" fill="#fff" opacity="0.55"/>
<circle cx="1100.8" cy="1728.0" r="12.0" fill="#fff" opacity="0.55"/>
<circle cx="1104.8" cy="1728.0" r="12.0" fill="#fff" opacity="0.55"/>
<circle cx="1108.7" cy="1728.0" r="12.0" fill="#fff" opacity="0.55"/>
<circle cx="1112.7" cy="1728.0" r="12.0" fill="#fff" opacity="0.55"/>
<circle cx="1116.7" cy="1728.0" r="12.0" fill="#fff" opacity="0.55"/>
<circle cx="1120.6" cy="1728.0" r="12.0" fill="#fff" opacity="0.55"/>
<circle cx="1124.6" cy="1728.0" r="12.0" fill="#fff" opacity="0.55"/>
<circle cx="1128.6" cy="1728.0" r="12.0" fill="#fff" opacity="0.55"/>
<circle cx="1132.5" cy="1728.0" r="12.0" fill="#fff" opacity="0.55"/>
<circle cx="1136.5" cy="1728.0" r="12.0" fill="#fff" opacity="0.55"/>
<circle cx="1140.4" cy="1728.0" r="12.0" fill="#fff" opacity="0.55"/>
<circle cx="1144.4" cy="1728.0" r="12.0" fill="#fff" opacity="0.55"/>
<circle cx="1148.4" cy="1728.0" r="12.0" fill="#fff" opacity="0.55"/>
<circle cx="1152.3" cy="1728.0" r="12.0" fill="#fff" opacity="0.55"/>
<circle cx="1156.3" cy="1728.0" r="12.0" fill="#fff" opacity="0.55"/>
<circle cx="1160.3" cy="1728.0" r="12.0" fill="#fff" opacity="0.55"/>
<circle cx="1164.2" cy="1728.0" r="12.0" fill="#fff" opacity="0.55"/>
<circle cx="1168.2" cy="1728.0" r="12.0" fill="#fff" opacity="0.55"/>
<circle cx="1172.2" cy="1728.0" r="12.0" fill="#fff" opacity="0.55"/>
<circle cx="1176.1" cy="1728.0" r="12.0" fill="#fff" opacity="0.55"/>
<circle cx="1180.1" cy="1728.0" r="12.0" fill="#fff" opacity="0.55"/>
<circle cx="1184.1" cy="1728.0" r="12.0" fill="#fff" opacity="0.55"/>
<circle cx="1188.0" cy="1728.0" r="12.0" fill="#fff" opacity="0.55"/>
<circle cx="1192.0" cy="1728.0" r="12.0" fill="#fff" opacity="0.55"/>
<circle cx="1196.0" cy="1728.0" r="12.0" fill="#fff" opacity="0.55"/>
<circle cx="1199.9" cy="1728.0" r="12.0" fill="#fff" opacity="0.55"/>
<circle cx="1203.9" cy="1728.0" r="12.0" fill="#fff" opacity="0.55"/>
<circle cx="1207.9" cy="1728.0" r="12.0" fill="#fff" opacity="0.55"/>
<circle cx="1211.8" cy="1728.0" r="12.0" fill="#fff" opacity="0.55"/>
<circle cx="1215.8" cy="1728.0" r="12.0" fill="#fff" opacity="0.55"/>
<circle cx="1219.8" cy="1728.0" r="12.0" fill="#fff" opacity="0.55"/>
<circle cx="1223.7" cy="1728.0" r="12.0" fill="#fff" opacity="0.55"/>
<circle cx="1227.7" cy="1728.0" r="12.0" fill="#fff" opacity="0.55"/>
<circle cx="1231.6" cy="1728.0" r="12.0" fill="#fff" opacity="0.55"/>
<circle cx="1235.6" cy="1728.0" r="12.0" fill="#fff" opacity="0.55"/>
<circle cx="1239.6" cy="1728.0" r="12.0" fill="#fff" opacity="0.55"/>
<circle cx="1243.5" cy="1728.0" r="12.0" fill="#fff" opacity="0.55"/>
<circle cx="1247.5" cy="1728.0" r="12.0" fill="#fff" opacity="0.55"/>
<circle cx="1251.5" cy="1728.0" r="12.0" fill="#fff" opacity="0.55"/>
<circle cx="1255.4" cy="1728.0" r="12.0" fill="#fff" opacity="0.55"/>
<circle cx="1251.0" cy="1723.5" r="12.0" fill="#fff" opacity="0.55"/>
<circle cx="1252.0" cy="1714.7" r="12.0" fill="#fff" opacity="0.55"/>
<circle cx="1254.0" cy="1688.8" r="12.0" fill="#fff" opacity="0.55"/>
<circle cx="1255.2" cy="1640.8" r="12.0" fill="#fff" opacity="0.55"/>
<circle cx="1255.5" cy="1599.0" r="12.0" fill="#fff" opacity="0.55"/>
<circle cx="1256.0" cy="1576.7" r="12.0" fill="#fff" opacity="0.55"/>
<circle cx="1256.5" cy="1558.9" r="12.0" fill="#fff" opacity="0.55"/>
<circle cx="1257.0" cy="1541.1" r="12.0" fill="#fff" opacity="0.55"/>
<circle cx="1258.0" cy="1523.3" r="12.0" fill="#fff" opacity="0.55"/>
<circle cx="1259.0" cy="1510.0" r="12.0" fill="#fff" opacity="0.55"/>
<circle cx="1260.5" cy="1501.0" r="12.0" fill="#fff" opacity="0.55"/>
<circle cx="1262.0" cy="1496.6" r="12.0" fill="#fff" opacity="0.55"/>
<circle cx="1264.0" cy="1496.6" r="12.0" fill="#fff" opacity="0.55"/>
<circle cx="1267.3" cy="1514.5" r="12.0" fill="#fff" opacity="0.55"/>
<circle cx="1271.3" cy="1531.1" r="12.0" fill="#fff" opacity="0.55"/>
<circle cx="1275.3" cy="1546.3" r="12.0" fill="#fff" opacity="0.55"/>
<circle cx="1279.2" cy="1560.4" r="12.0" fill="#fff" opacity="0.55"/>
<circle cx="1283.2" cy="1573.4" r="12.0" fill="#fff" opacity="0.55"/>
<circle cx="1287.2" cy="1585.4" r="12.0" fill="#fff" opacity="0.55"/>
<circle cx="1291.1" cy="1596.4" r="12.0" fill="#fff" opacity="0.55"/>
<circle cx="1295.1" cy="1606.6" r="12.0" fill="#fff" opacity="0.55"/>
<circle cx="1299.1" cy="1616.0" r="12.0" fill="#fff" opacity="0.55"/>
<circle cx="1303.0" cy="1624.7" r="12.0" fill="#fff" opacity="0.55"/>
<circle cx="1307.0" cy="1632.7" r="12.0" fill="#fff" opacity="0.55"/>
<circle cx="1310.9" cy="1640.1" r="12.0" fill="#fff" opacity="0.55"/>
<circle cx="1314.9" cy="1646.9" r="12.0" fill="#fff" opacity="0.55"/>
<circle cx="1318.9" cy="1653.2" r="12.0" fill="#fff" opacity="0.55"/>
<circle cx="1322.8" cy="1659.0" r="12.0" fill="#fff" opacity="0.55"/>
<circle cx="1326.8" cy="1664.3" r="12.0" fill="#fff" opacity="0.55"/>
<circle cx="1330.8" cy="1669.3" r="12.0" fill="#fff" opacity="0.55"/>
<circle cx="1334.7" cy="1673.8" r="12.0" fill="#fff" opacity="0.55"/>
<circle cx="1338.7" cy="1678.0" r="12.0" fill="#fff" opacity="0.55"/>
<circle cx="1342.7" cy="1681.9" r="12.0" fill="#fff" opacity="0.55"/>
<circle cx="1346.6" cy="1685.5" r="12.0" fill="#fff" opacity="0.55"/>
<circle cx="1350.6" cy="1688.7" r="12.0" fill="#fff" opacity="0.55"/>
<circle cx="1354.6" cy="1691.8" r="12.0" fill="#fff" opacity="0.55"/>
<circle cx="1358.5" cy="1694.6" r="12.0" fill="#fff" opacity="0.55"/>
<circle cx="1362.5" cy="1697.2" r="12.0" fill="#fff" opacity="0.55"/>
<circle cx="1366.5" cy="1699.6" r="12.0" fill="#fff" opacity="0.55"/>
<circle cx="1370.4" cy="1701.8" r="12.0" fill="#fff" opacity="0.55"/>
<circle cx="1374.4" cy="1703.8" r="12.0" fill="#fff" opacity="0.55"/>
<circle cx="1378.4" cy="1705.7" r="12.0" fill="#fff" opacity="0.55"/>
<circle cx="1382.3" cy="1707.4" r="12.0" fill="#fff" opacity="0.55"/>
<circle cx="1386.3" cy="1709.0" r="12.0" fill="#fff" opacity="0.55"/>
<circle cx="1390.2" cy="1710.5" r="12.0" fill="#fff" opacity="0.55"/>
<circle cx="1394.2" cy="1711.8" r="12.0" fill="#fff" opacity="0.55"/>
<circle cx="1398.2" cy="1713.1" r="12.0" fill="#fff" opacity="0.55"/>
<circle cx="1402.1" cy="1714.2" r="12.0" fill="#fff" opacity="0.55"/>
<circle cx="1406.1" cy="1715.3" r="12.0" fill="#fff" opacity="0.55"/>
<circle cx="1410.1" cy="1716.3" r="12.0" fill="#fff" opacity="0.55"/>
<circle cx="1414.0" cy="1717.2" r="12.0" fill="#fff" opacity="0.55"/>
<circle cx="1418.0" cy="1718.0" r="12.0" fill="#fff" opacity="0.55"/>
<circle cx="1422.0" cy="1718.8" r="12.0" fill="#fff" opacity="0.55"/>
<circle cx="1425.9" cy="1719.5" r="12.0" fill="#fff" opacity="0.55"/>
<circle cx="1429.9" cy="1720.2" r="12.0" fill="#fff" opacity="0.55"/>
<circle cx="1433.9" cy="1720.8" r="12.0" fill="#fff" opacity="0.55"/>
<circle cx="1437.8" cy="1721.3" r="12.0" fill="#fff" opacity="0.55"/>
<circle cx="1441.8" cy="1721.9" r="12.0" fill="#fff" opacity="0.55"/>
<circle cx="1445.8" cy="1722.3" r="12.0" fill="#fff" opacity="0.55"/>
<circle cx="1449.7" cy="1722.8" r="12.0" fill="#fff" opacity="0.55"/>
<circle cx="1453.7" cy="1723.2" r="12.0" fill="#fff" opacity="0.55"/>
<circle cx="1457.7" cy="1723.6" r="12.0" fill="#fff" opacity="0.55"/>
<circle cx="1461.6" cy="1723.9" r="12.0" fill="#fff" opacity="0.55"/>
<circle cx="1465.6" cy="1724.2" r="12.0" fill="#fff" opacity="0.55"/>
<circle cx="1469.5" cy="1724.5" r="12.0" fill="#fff" opacity="0.55"/>
<circle cx="1473.5" cy="1724.8" r="12.0" fill="#fff" opacity="0.55"/>
<circle cx="1477.5" cy="1725.0" r="12.0" fill="#fff" opacity="0.55"/>
<circle cx="1481.4" cy="1725.3" r="12.0" fill="#fff" opacity="0.55"/>
<circle cx="1485.4" cy="1725.5" r="12.0" fill="#fff" opacity="0.55"/>
<circle cx="1489.4" cy="1725.7" r="12.0" fill="#fff" opacity="0.55"/>
<circle cx="1493.3" cy="1725.8" r="12.0" fill="#fff" opacity="0.55"/>
<circle cx="1497.3" cy="1726.0" r="12.0" fill="#fff" opacity="0.55"/>
<circle cx="1021.5" cy="1728.0" r="8.5" fill="#000"/>
<circle cx="1025.5" cy="1728.0" r="8.5" fill="#000"/>
<circle cx="1029.4" cy="1728.0" r="8.5" fill="#000"/>
<circle cx="1033.4" cy="1728.0" r="8.5" fill="#000"/>
<circle cx="1037.4" cy="1728.0" r="8.5" fill="#000"/>
<circle cx="1041.3" cy="1728.0" r="8.5" fill="#000"/>
<circle cx="1045.3" cy="1728.0" r="8.5" fill="#000"/>
<circle cx="1049.3" cy="1728.0" r="8.5" fill="#000"/>
<circle cx="1053.2" cy="1728.0" r="8.5" fill="#000"/>
<circle cx="1057.2" cy="1728.0" r="8.5" fill="#000"/>
<circle cx="1061.1" cy="1728.0" r="8.5" fill="#000"/>
<circle cx="1065.1" cy="1728.0" r="8.5" fill="#000"/>
<circle cx="1069.1" cy="1728.0" r="8.5" fill="#000"/>
<circle cx="1073.0" cy="1728.0" r="8.5" fill="#000"/>
<circle cx="1077.0" cy="1728.0" r="8.5" fill="#000"/>
<circle cx="1081.0" cy="1728.0" r="8.5" fill="#000"/>
<circle cx="1084.9" cy="1728.0" r="8.5" fill="#000"/>
<circle cx="1088.9" cy="1728.0" r="8.5" fill="#000"/>
<circle cx="1092.9" cy="1728.0" r="8.5" fill="#000"/>
<circle cx="1096.8" cy="1728.0" r="8.5" fill="#000"/>
<circle cx="1100.8" cy="1728.0" r="8.5" fill="#000"/>
<circle cx="1104.8" cy="1728.0" r="8.5" fill="#000"/>
<circle cx="1108.7" cy="1728.0" r="8.5" fill="#000"/>
<circle cx="1112.7" cy="1728.0" r="8.5" fill="#000"/>
<circle cx="1116.7" cy="1728.0" r="8.5" fill="#000"/>
<circle cx="1120.6" cy="1728.0" r="8.5" fill="#000"/>
<circle cx="1124.6" cy="1728.0" r="8.5" fill="#000"/>
<circle cx="1128.6" cy="1728.0" r="8.5" fill="#000"/>
<circle cx="1132.5" cy="1728.0" r="8.5" fill="#000"/>
<circle cx="1136.5" cy="1728.0" r="8.5" fill="#000"/>
<circle cx="1140.4" cy="1728.0" r="8.5" fill="#000"/>
<circle cx="1144.4" cy="1728.0" r="8.5" fill="#000"/>
<circle cx="1148.4" cy="1728.0" r="8.5" fill="#000"/>
<circle cx="1152.3" cy="1728.0" r="8.5" fill="#000"/>
<circle cx="1156.3" cy="1728.0" r="8.5" fill="#000"/>
<circle cx="1160.3" cy="1728.0" r="8.5" fill="#000"/>
<circle cx="1164.2" cy="1728.0" r="8.5" fill="#000"/>
<circle cx="1168.2" cy="1728.0" r="8.5" fill="#000"/>
<circle cx="1172.2" cy="1728.0" r="8.5" fill="#000"/>
<circle cx="1176.1" cy="1728.0" r="8.5" fill="#000"/>
<circle cx="1180.1" cy="1728.0" r="8.5" fill="#000"/>
<circle cx="1184.1" cy="1728.0" r="8.5" fill="#000"/>
<circle cx="1188.0" cy="1728.0" r="8.5" fill="#000"/>
<circle cx="1192.0" cy="1728.0" r="8.5" fill="#000"/>
<circle cx="1196.0" cy="1728.0" r="8.5" fill="#000"/>
<circle cx="1199.9" cy="1728.0" r="8.5" fill="#000"/>
<circle cx="1203.9" cy="1728.0" r="8.5" fill="#000"/>
<circle cx="1207.9" cy="1728.0" r="8.5" fill="#000"/>
<circle cx="1211.8" cy="1728.0" r="8.5" fill="#000"/>
<circle cx="1215.8" cy="1728.0" r="8.5" fill="#000"/>
<circle cx="1219.8" cy="1728.0" r="8.5" fill="#000"/>
<circle cx="1223.7" cy="1728.0" r="8.5" fill="#000"/>
<circle cx="1227.7" cy="1728.0" r="8.5" fill="#000"/>
<circle cx="1231.6" cy="1728.0" r="8.5" fill="#000"/>
<circle cx="1235.6" cy="1728.0" r="8.5" fill="#000"/>
<circle cx="1239.6" cy="1728.0" r="8.5" fill="#000"/>
<circle cx="1243.5" cy="1728.0" r="8.5" fill="#000"/>
<circle cx="1247.5" cy="1728.0" r="8.5" fill="#000"/>
<circle cx="1251.5" cy="1728.0" r="8.5" fill="#000"/>
<circle cx="1255.4" cy="1728.0" r="8.5" fill="#000"/>
<circle cx="1251.0" cy="1723.5" r="8.5" fill="#000"/>
<circle cx="1252.0" cy="1714.7" r="8.5" fill="#000"/>
<circle cx="1254.0" cy="1688.8" r="8.5" fill="#000"/>
<circle cx="1255.2" cy="1640.8" r="8.5" fill="#000"/>
<circle cx="1255.5" cy="1599.0" r="8.5" fill="#000"/>
<circle cx="1256.0" cy="1576.7" r="8.5" fill="#000"/>
<circle cx="1256.5" cy="1558.9" r="8.5" fill="#000"/>
<circle cx="1257.0" cy="1541.1" r="8.5" fill="#000"/>
<circle cx="1258.0" cy="1523.3" r="8.5" fill="#000"/>
<circle cx="1259.0" cy="1510.0" r="8.5" fill="#000"/>
<circle cx="1260.5" cy="1501.0" r="8.5" fill="#000"/>
<circle cx="1262.0" cy="1496.6" r="8.5" fill="#000"/>
<circle cx="1264.0" cy="1496.6" r="8.5" fill="#000"/>
<circle cx="1267.3" cy="1514.5" r="8.5" fill="#000"/>
<circle cx="1271.3" cy="1531.1" r="8.5" fill="#000"/>
<circle cx="1275.3" cy="1546.3" r="8.5" fill="#000"/>
<circle cx="1279.2" cy="1560.4" r="8.5" fill="#000"/>
<circle cx="1283.2" cy="1573.4" r="8.5" fill="#000"/>
<circle cx="1287.2" cy="1585.4" r="8.5" fill="#000"/>
<circle cx="1291.1" cy="1596.4" r="8.5" fill="#000"/>
<circle cx="1295.1" cy="1606.6" r="8.5" fill="#000"/>
<circle cx="1299.1" cy="1616.0" r="8.5" fill="#000"/>
<circle cx="1303.0" cy="1624.7" r="8.5" fill="#000"/>
<circle cx="1307.0" cy="1632.7" r="8.5" fill="#000"/>
<circle cx="1310.9" cy="1640.1" r="8.5" fill="#000"/>
<circle cx="1314.9" cy="1646.9" r="8.5" fill="#000"/>
<circle cx="1318.9" cy="1653.2" r="8.5" fill="#000"/>
<circle cx="1322.8" cy="1659.0" r="8.5" fill="#000"/>
<circle cx="1326.8" cy="1664.3" r="8.5" fill="#000"/>
<circle cx="1330.8" cy="1669.3" r="8.5" fill="#000"/>
<circle cx="1334.7" cy="1673.8" r="8.5" fill="#000"/>
<circle cx="1338.7" cy="1678.0" r="8.5" fill="#000"/>
<circle cx="1342.7" cy="1681.9" r="8.5" fill="#000"/>
<circle cx="1346.6" cy="1685.5" r="8.5" fill="#000"/>
<circle cx="1350.6" cy="1688.7" r="8.5" fill="#000"/>
<circle cx="1354.6" cy="1691.8" r="8.5" fill="#000"/>
<circle cx="1358.5" cy="1694.6" r="8.5" fill="#000"/>
<circle cx="1362.5" cy="1697.2" r="8.5" fill="#000"/>
<circle cx="1366.5" cy="1699.6" r="8.5" fill="#000"/>
<circle cx="1370.4" cy="1701.8" r="8.5" fill="#000"/>
<circle cx="1374.4" cy="1703.8" r="8.5" fill="#000"/>
<circle cx="1378.4" cy="1705.7" r="8.5" fill="#000"/>
<circle cx="1382.3" cy="1707.4" r="8.5" fill="#000"/>
<circle cx="1386.3" cy="1709.0" r="8.5" fill="#000"/>
<circle cx="1390.2" cy="1710.5" r="8.5" fill="#000"/>
<circle cx="1394.2" cy="1711.8" r="8.5" fill="#000"/>
<circle cx="1398.2" cy="1713.1" r="8.5" fill="#000"/>
<circle cx="1402.1" cy="1714.2" r="8.5" fill="#000"/>
<circle cx="1406.1" cy="1715.3" r="8.5" fill="#000"/>
<circle cx="1410.1" cy="1716.3" r="8.5" fill="#000"/>
<circle cx="1414.0" cy="1717.2" r="8.5" fill="#000"/>
<circle cx="1418.0" cy="1718.0" r="8.5" fill="#000"/>
<circle cx="1422.0" cy="1718.8" r="8.5" fill="#000"/>
<circle cx="1425.9" cy="1719.5" r="8.5" fill="#000"/>
<circle cx="1429.9" cy="1720.2" r="8.5" fill="#000"/>
<circle cx="1433.9" cy="1720.8" r="8.5" fill="#000"/>
<circle cx="1437.8" cy="1721.3" r="8.5" fill="#000"/>
<circle cx="1441.8" cy="1721.9" r="8.5" fill="#000"/>
<circle cx="1445.8" cy="1722.3" r="8.5" fill="#000"/>
<circle cx="1449.7" cy="1722.8" r="8.5" fill="#000"/>
<circle cx="1453.7" cy="1723.2" r="8.5" fill="#000"/>
<circle cx="1457.7" cy="1723.6" r="8.5" fill="#000"/>
<circle cx="1461.6" cy="1723.9" r="8.5" fill="#000"/>
<circle cx="1465.6" cy="1724.2" r="8.5" fill="#000"/>
<circle cx="1469.5" cy="1724.5" r="8.5" fill="#000"/>
<circle cx="1473.5" cy="1724.8" r="8.5" fill="#000"/>
<circle cx="1477.5" cy="1725.0" r="8.5" fill="#000"/>
<circle cx="1481.4" cy="1725.3" r="8.5" fill="#000"/>
<circle cx="1485.4" cy="1725.5" r="8.5" fill="#000"/>
<circle cx="1489.4" cy="1725.7" r="8.5" fill="#000"/>
<circle cx="1493.3" cy="1725.8" r="8.5" fill="#000"/>
<circle cx="1497.3" cy="1726.0" r="8.5" fill="#000"/>
</g>
<g stroke="#1a1a1a" stroke-width="4"><line x1="1021.5" y1="1774" x2="1021.5" y2="1760"/><line x1="1021.5" y1="1280" x2="1021.5" y2="1294"/><line x1="1100.8" y1="1774" x2="1100.8" y2="1760"/><line x1="1100.8" y1="1280" x2="1100.8" y2="1294"/><line x1="1180.1" y1="1774" x2="1180.1" y2="1760"/><line x1="1180.1" y1="1280" x2="1180.1" y2="1294"/><line x1="1259.4" y1="1774" x2="1259.4" y2="1760"/><line x1="1259.4" y1="1280" x2="1259.4" y2="1294"/><line x1="1338.7" y1="1774" x2="1338.7" y2="1760"/><line x1="1338.7" y1="1280" x2="1338.7" y2="1294"/><line x1="1418.0" y1="1774" x2="1418.0" y2="1760"/><line x1="1418.0" y1="1280" x2="1418.0" y2="1294"/><line x1="1497.3" y1="1774" x2="1497.3" y2="1760"/><line x1="1497.3" y1="1280" x2="1497.3" y2="1294"/><line x1="981.9" y1="1774" x2="981.9" y2="1767"/><line x1="981.9" y1="1280" x2="981.9" y2="1287"/><line x1="1061.2" y1="1774" x2="1061.2" y2="1767"/><line x1="1061.2" y1="1280" x2="1061.2" y2="1287"/><line x1="1140.5" y1="1774" x2="1140.5" y2="1767"/><line x1="1140.5" y1="1280" x2="1140.5" y2="1287"/><line x1="1219.8" y1="1774" x2="1219.8" y2="1767"/><line x1="1219.8" y1="1280" x2="1219.8" y2="1287"/><line x1="1299.1" y1="1774" x2="1299.1" y2="1767"/><line x1="1299.1" y1="1280" x2="1299.1" y2="1287"/><line x1="1378.4" y1="1774" x2="1378.4" y2="1767"/><line x1="1378.4" y1="1280" x2="1378.4" y2="1287"/><line x1="1457.7" y1="1774" x2="1457.7" y2="1767"/><line x1="1457.7" y1="1280" x2="1457.7" y2="1287"/><line x1="979" y1="1728.0" x2="993" y2="1728.0"/><line x1="1535" y1="1728.0" x2="1521" y2="1728.0"/><line x1="979" y1="1639.0" x2="993" y2="1639.0"/><line x1="1535" y1="1639.0" x2="1521" y2="1639.0"/><line x1="979" y1="1550.0" x2="993" y2="1550.0"/><line x1="1535" y1="1550.0" x2="1521" y2="1550.0"/><line x1="979" y1="1461.0" x2="993" y2="1461.0"/><line x1="1535" y1="1461.0" x2="1521" y2="1461.0"/><line x1="979" y1="1372.0" x2="993" y2="1372.0"/><line x1="1535" y1="1372.0" x2="1521" y2="1372.0"/><line x1="979" y1="1283.0" x2="993" y2="1283.0"/><line x1="1535" y1="1283.0" x2="1521" y2="1283.0"/><line x1="979" y1="1772.5" x2="986" y2="1772.5"/><line x1="1535" y1="1772.5" x2="1528" y2="1772.5"/><line x1="979" y1="1683.5" x2="986" y2="1683.5"/><line x1="1535" y1="1683.5" x2="1528" y2="1683.5"/><line x1="979" y1="1594.5" x2="986" y2="1594.5"/><line x1="1535" y1="1594.5" x2="1528" y2="1594.5"/><line x1="979" y1="1505.5" x2="986" y2="1505.5"/><line x1="1535" y1="1505.5" x2="1528" y2="1505.5"/><line x1="979" y1="1416.5" x2="986" y2="1416.5"/><line x1="1535" y1="1416.5" x2="1528" y2="1416.5"/><line x1="979" y1="1327.5" x2="986" y2="1327.5"/><line x1="1535" y1="1327.5" x2="1528" y2="1327.5"/></g>
<rect x="979" y="1280" width="556" height="494" fill="none" stroke="#1a1a1a" stroke-width="4" rx="2"/>
<g font-family='"Liberation Sans", Arial, sans-serif' font-size="43" fill="#111" stroke="#111" stroke-width="1.5" text-anchor="end" style="letter-spacing:-2px">
<text x="962" y="1743.0">300</text>
<text x="962" y="1654.0">320</text>
<text x="962" y="1565.0">340</text>
<text x="962" y="1476.0">360</text>
<text x="962" y="1387.0">380</text>
<text x="962" y="1298.0">400</text>
</g>
<g font-family='"Liberation Sans", Arial, sans-serif' font-size="43" fill="#111" stroke="#111" stroke-width="1.5" text-anchor="middle">
<text x="1018.5" y="1827">-3</text>
<text x="1097.8" y="1827">-2</text>
<text x="1177.1" y="1827">-1</text>
<text x="1259.4" y="1827">0</text>
<text x="1338.7" y="1827">1</text>
<text x="1418.0" y="1827">2</text>
<text x="1497.3" y="1827">3</text>
</g>
<text x="1258" y="1888" font-family='"Liberation Sans", Arial, sans-serif' font-size="62" fill="#1a1a1a" stroke="#1a1a1a" stroke-width="1.6" text-anchor="middle">z / cm</text>
<text x="1433" y="1346" font-family='"Liberation Sans", Arial, sans-serif' font-size="41" fill="#111" stroke="#111" stroke-width="1.5" text-anchor="middle" style="letter-spacing:-0.5px">r = 0 cm</text>
<text transform="translate(862,1534) rotate(-90)" font-family='"Liberation Sans", Arial, sans-serif' font-size="58" fill="#1a1a1a" stroke="#1a1a1a" stroke-width="1.5" text-anchor="middle">T / K</text>
<line x1="1014" y1="1328" x2="1105" y2="1328" stroke="#fff" stroke-width="9" opacity="0.5"/>
<line x1="1014" y1="1328" x2="1105" y2="1328" stroke="#7a3838" stroke-width="3.5"/>
<circle cx="1060" cy="1328" r="9" fill="#900000"/>
<line x1="1014" y1="1379" x2="1105" y2="1379" stroke="#fff" stroke-width="9" opacity="0.5"/>
<line x1="1014" y1="1379" x2="1105" y2="1379" stroke="#000" stroke-width="3.5"/>
<circle cx="1060" cy="1379" r="9" fill="#000"/>
<text x="1120" y="1342" font-family='"Liberation Sans", Arial, sans-serif' font-size="41" fill="#111" stroke="#111" stroke-width="1.5">1D</text>
<text x="1118" y="1393" font-family='"Liberation Sans", Arial, sans-serif' font-size="41" fill="#111" stroke="#111" stroke-width="1.5">2D</text>
</g>
</svg></body></html>
